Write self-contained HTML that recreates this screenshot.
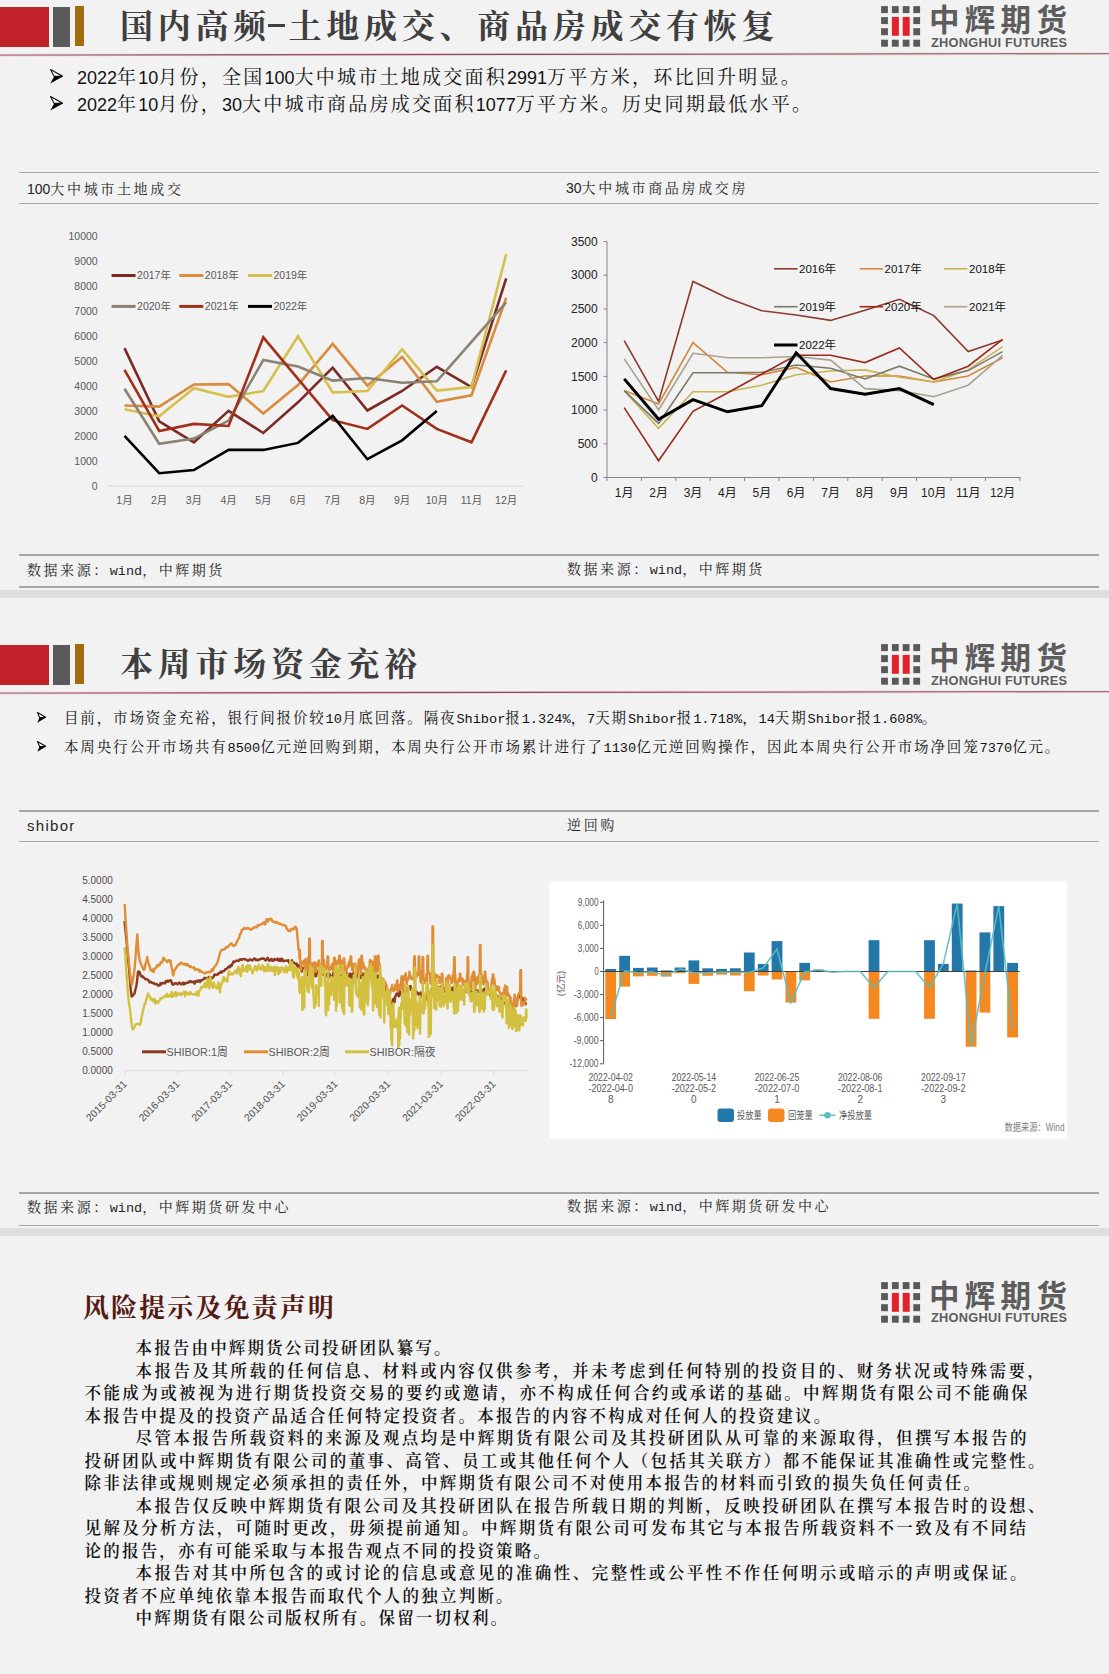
<!DOCTYPE html>
<html><head><meta charset="utf-8"><title>中辉期货</title>
<style>
*{margin:0;padding:0;box-sizing:border-box}
html,body{width:1109px;height:1674px;overflow:hidden;background:#f2f2f2}
body{position:relative;font-family:"Liberation Sans","Noto Serif CJK SC",serif;color:#000}
.abs{position:absolute}
.band{position:absolute;left:0;width:1109px;height:8px;background:#dedede}
.htitle{left:120px;height:50px;line-height:50px;font-family:"Liberation Serif","Noto Serif CJK SC",serif;font-weight:700;font-size:33px;letter-spacing:4.75px;margin-top:1.5px;color:#3f3f3f;white-space:nowrap}
.hy{display:inline-block;width:17px;height:3px;background:#3f3f3f;vertical-align:middle;margin:0 3.6px 0 -3px;position:relative;top:-4.4px}
.hline{left:0;width:1109px;height:1.5px;background:linear-gradient(90deg,#d98a92,#b87070)}
.logo-cn{left:929px;width:150px;height:32px;line-height:32px;margin-top:2px;font-family:"Noto Sans CJK SC",sans-serif;font-weight:700;font-size:30.5px;letter-spacing:5.3px;color:#5d5d5d;white-space:nowrap}
.logo-en{left:931px;height:12px;line-height:12px;font-family:"Liberation Sans",sans-serif;font-weight:700;font-size:12.8px;color:#5d5d5d;white-space:nowrap;letter-spacing:0.25px;margin-top:36.5px}
.b1{left:77px;height:26px;line-height:26px;font-size:19px;letter-spacing:2.24px;white-space:nowrap;color:#111}
.b1 .n{font-family:"Liberation Sans",sans-serif;font-size:18px;letter-spacing:0}
.arrow{display:inline-block;width:28px;font-family:"DejaVu Sans",sans-serif;font-size:16px;letter-spacing:0}
.b2{left:64px;height:22px;line-height:22px;font-size:14.5px;letter-spacing:1.85px;white-space:nowrap;color:#111}
.b2 .n{font-family:"Liberation Mono",monospace;font-size:13.6px;letter-spacing:0}
.b2 .arrow{width:29px;font-size:13px}
.gline{left:19px;width:1080px;height:1.5px;background:#a6a6a6}
.ctitle{height:20px;line-height:20px;font-size:14px;letter-spacing:2.65px;margin-left:-1px;margin-top:1px;color:#262626;white-space:nowrap}
.ctitle .n{font-family:"Liberation Sans",sans-serif;letter-spacing:0}
.m{font-family:"Liberation Mono",monospace;font-size:13.5px;letter-spacing:0}
.src{height:20px;line-height:20px;font-size:14px;letter-spacing:2.55px;margin-left:-1px;color:#262626;white-space:nowrap}
.disc{left:84.5px;font-size:16.5px;line-height:22.5px;letter-spacing:2.45px;font-weight:600;color:#111;white-space:nowrap}
.disc div{height:22.5px}
.disc .i{padding-left:51px}
.dtitle{left:83px;height:36px;line-height:36px;font-size:26px;font-weight:700;letter-spacing:2.1px;color:#561a14;white-space:nowrap}
svg text{font-family:"Liberation Sans","Noto Sans CJK SC",sans-serif}
</style></head><body>
<div class="abs" style="left:0;top:7px;width:49px;height:40px;background:#c1222a"></div><div class="abs" style="left:53px;top:7px;width:17px;height:40px;background:#595959"></div><div class="abs" style="left:75px;top:6px;width:9px;height:40px;background:#a26d0c"></div><div class="abs htitle" style="top:0px">国内高频<span class="hy"></span>土地成交、商品房成交有恢复</div><svg class="abs" style="left:0;top:50px" width="1109" height="10" viewBox="0 0 1109 10"><defs><linearGradient id="hg-40" x1="0" x2="1" y1="0" y2="0"><stop offset="0" stop-color="#a87482"/><stop offset="0.45" stop-color="#7d4d58"/><stop offset="1" stop-color="#9a7a78"/></linearGradient></defs><line x1="0" y1="5.1" x2="1109" y2="3.6" stroke="#f6dde1" stroke-width="3.2"/><line x1="0" y1="5.1" x2="1109" y2="3.6" stroke="url(#hg-40)" stroke-width="1.3"/></svg><svg class="abs" style="left:0;top:0.0px" width="1109" height="60" viewBox="0 0 1109 60"><rect x="881.1" y="6.1" width="6.8" height="7" fill="#595959"/><rect x="881.1" y="17.1" width="6.8" height="7" fill="#595959"/><rect x="881.1" y="28.2" width="6.8" height="7" fill="#595959"/><rect x="881.1" y="39.7" width="6.8" height="7" fill="#595959"/><rect x="891.9" y="6.1" width="6.8" height="7" fill="#595959"/><rect x="891.9" y="39.7" width="6.8" height="7" fill="#595959"/><rect x="902.7" y="6.1" width="6.8" height="7" fill="#595959"/><rect x="902.7" y="39.7" width="6.8" height="7" fill="#595959"/><rect x="913.3" y="6.1" width="6.8" height="7" fill="#595959"/><rect x="913.3" y="17.1" width="6.8" height="7" fill="#595959"/><rect x="913.3" y="28.2" width="6.8" height="7" fill="#595959"/><rect x="913.3" y="39.7" width="6.8" height="7" fill="#595959"/><rect x="891.9" y="16.9" width="7" height="18.9" fill="#e2222a"/><rect x="902.7" y="16.9" width="7" height="18.9" fill="#e2222a"/></svg><div class="abs logo-cn" style="top:0.0px">中辉期货</div><div class="abs logo-en" style="top:0.0px">ZHONGHUI FUTURES</div><div class="abs" style="left:49.8px;top:69.2px;width:14px;height:15px"><svg width="13.2" height="14.8" viewBox="0 0 13.2 14.8" style="position:absolute;left:0;top:0"><polygon points="0.5,0.5 12.899999999999999,7.4 4.2,7.4" fill="#fff" stroke="#111" stroke-width="1.1" stroke-linejoin="miter"/><polygon points="4.2,7.4 12.899999999999999,7.4 0.3,14.5" fill="#000"/></svg></div><div class="abs" style="left:49.8px;top:96.4px;width:14px;height:15px"><svg width="13.2" height="14.8" viewBox="0 0 13.2 14.8" style="position:absolute;left:0;top:0"><polygon points="0.5,0.5 12.899999999999999,7.4 4.2,7.4" fill="#fff" stroke="#111" stroke-width="1.1" stroke-linejoin="miter"/><polygon points="4.2,7.4 12.899999999999999,7.4 0.3,14.5" fill="#000"/></svg></div><div class="abs" style="left:37px;top:711.8px;width:10px;height:12px"><svg width="9.3" height="11" viewBox="0 0 9.3 11" style="position:absolute;left:0;top:0"><polygon points="0.5,0.5 9.0,5.5 2.6,5.5" fill="#fff" stroke="#111" stroke-width="1.1" stroke-linejoin="miter"/><polygon points="2.6,5.5 9.0,5.5 0.3,10.7" fill="#000"/></svg></div><div class="abs" style="left:37px;top:741.1px;width:10px;height:12px"><svg width="9.3" height="11" viewBox="0 0 9.3 11" style="position:absolute;left:0;top:0"><polygon points="0.5,0.5 9.0,5.5 2.6,5.5" fill="#fff" stroke="#111" stroke-width="1.1" stroke-linejoin="miter"/><polygon points="2.6,5.5 9.0,5.5 0.3,10.7" fill="#000"/></svg></div><div class="abs b1" style="top:64.5px"><span class="n">2022</span>年<span class="n">10</span>月份，全国<span class="n">100</span>大中城市土地成交面积<span class="n">2991</span>万平方米，环比回升明显。</div><div class="abs b1" style="top:91.8px"><span class="n">2022</span>年<span class="n">10</span>月份，<span class="n">30</span>大中城市商品房成交面积<span class="n">1077</span>万平方米。历史同期最低水平。</div><div class="abs gline" style="top:171.5px"></div><div class="abs gline" style="top:202.5px"></div><div class="abs ctitle" style="left:28px;top:178px"><span class="n">100</span>大中城市土地成交</div><div class="abs ctitle" style="left:567px;top:177px"><span class="n">30</span>大中城市商品房成交房</div><svg class="abs" style="left:20px;top:210px;overflow:visible" width="520" height="320" viewBox="20 210 520 320"><text x="97.7" y="489.8" text-anchor="end" font-size="10.5" fill="#595959">0</text><text x="97.7" y="464.8" text-anchor="end" font-size="10.5" fill="#595959">1000</text><text x="97.7" y="439.8" text-anchor="end" font-size="10.5" fill="#595959">2000</text><text x="97.7" y="414.8" text-anchor="end" font-size="10.5" fill="#595959">3000</text><text x="97.7" y="389.8" text-anchor="end" font-size="10.5" fill="#595959">4000</text><text x="97.7" y="364.8" text-anchor="end" font-size="10.5" fill="#595959">5000</text><text x="97.7" y="339.8" text-anchor="end" font-size="10.5" fill="#595959">6000</text><text x="97.7" y="314.8" text-anchor="end" font-size="10.5" fill="#595959">7000</text><text x="97.7" y="289.8" text-anchor="end" font-size="10.5" fill="#595959">8000</text><text x="97.7" y="264.8" text-anchor="end" font-size="10.5" fill="#595959">9000</text><text x="97.7" y="239.8" text-anchor="end" font-size="10.5" fill="#595959">10000</text><line x1="107.6" y1="486.0" x2="523" y2="486.0" stroke="#d9d9d9" stroke-width="1"/><text x="124.5" y="504" text-anchor="middle" font-size="10.5" fill="#595959">1月</text><text x="159.2" y="504" text-anchor="middle" font-size="10.5" fill="#595959">2月</text><text x="193.9" y="504" text-anchor="middle" font-size="10.5" fill="#595959">3月</text><text x="228.6" y="504" text-anchor="middle" font-size="10.5" fill="#595959">4月</text><text x="263.3" y="504" text-anchor="middle" font-size="10.5" fill="#595959">5月</text><text x="298.0" y="504" text-anchor="middle" font-size="10.5" fill="#595959">6月</text><text x="332.7" y="504" text-anchor="middle" font-size="10.5" fill="#595959">7月</text><text x="367.4" y="504" text-anchor="middle" font-size="10.5" fill="#595959">8月</text><text x="402.1" y="504" text-anchor="middle" font-size="10.5" fill="#595959">9月</text><text x="436.8" y="504" text-anchor="middle" font-size="10.5" fill="#595959">10月</text><text x="471.5" y="504" text-anchor="middle" font-size="10.5" fill="#595959">11月</text><text x="506.2" y="504" text-anchor="middle" font-size="10.5" fill="#595959">12月</text><polyline points="124.5,348.1 159.2,421.3 193.9,442.3 228.6,410.9 263.3,433.0 298.0,402.3 332.7,367.6 367.4,410.5 402.1,391.0 436.8,366.8 471.5,387.1 506.2,278.4" fill="none" stroke="#7b2a26" stroke-width="2.6" stroke-linejoin="miter"/><polyline points="124.5,405.5 159.2,406.6 193.9,384.5 228.6,384.1 263.3,413.5 298.0,385.0 332.7,343.8 367.4,385.6 402.1,356.8 436.8,401.8 471.5,395.3 506.2,297.9" fill="none" stroke="#d98b3e" stroke-width="2.6" stroke-linejoin="miter"/><polyline points="124.5,409.2 159.2,416.3 193.9,388.2 228.6,396.8 263.3,391.0 298.0,336.2 332.7,392.5 367.4,391.0 402.1,349.2 436.8,390.6 471.5,387.1 506.2,254.2" fill="none" stroke="#d4c04a" stroke-width="2.6" stroke-linejoin="miter"/><polyline points="124.5,388.8 159.2,443.8 193.9,438.6 228.6,420.6 263.3,360.0 298.0,366.5 332.7,380.6 367.4,378.0 402.1,382.8 436.8,381.3 471.5,341.8 506.2,302.3" fill="none" stroke="#8a8272" stroke-width="2.6" stroke-linejoin="miter"/><polyline points="124.5,369.8 159.2,431.0 193.9,423.9 228.6,426.0 263.3,337.3 298.0,378.8 332.7,420.2 367.4,428.9 402.1,405.5 436.8,428.9 471.5,442.3 506.2,370.4" fill="none" stroke="#a0301a" stroke-width="2.6" stroke-linejoin="miter"/><polyline points="124.5,435.8 159.2,473.2 193.9,470.0 228.6,449.9 263.3,449.9 298.0,442.9 332.7,415.9 367.4,459.2 402.1,440.3 436.8,410.9" fill="none" stroke="#000000" stroke-width="2.6" stroke-linejoin="miter"/><line x1="111.6" y1="275.5" x2="135.6" y2="275.5" stroke="#7b2a26" stroke-width="3"/><text x="137.1" y="279.3" font-size="10.5" fill="#595959">2017年</text><line x1="179.3" y1="275.5" x2="203.3" y2="275.5" stroke="#d98b3e" stroke-width="3"/><text x="204.8" y="279.3" font-size="10.5" fill="#595959">2018年</text><line x1="248" y1="275.5" x2="272" y2="275.5" stroke="#d4c04a" stroke-width="3"/><text x="273.5" y="279.3" font-size="10.5" fill="#595959">2019年</text><line x1="111.6" y1="306.4" x2="135.6" y2="306.4" stroke="#8a8272" stroke-width="3"/><text x="137.1" y="310.2" font-size="10.5" fill="#595959">2020年</text><line x1="179.3" y1="306.4" x2="203.3" y2="306.4" stroke="#a0301a" stroke-width="3"/><text x="204.8" y="310.2" font-size="10.5" fill="#595959">2021年</text><line x1="248" y1="306.4" x2="272" y2="306.4" stroke="#000000" stroke-width="3"/><text x="273.5" y="310.2" font-size="10.5" fill="#595959">2022年</text></svg><svg class="abs" style="left:560px;top:225px;overflow:visible" width="480" height="290" viewBox="560 225 480 290"><line x1="607" y1="241.5" x2="607" y2="477.5" stroke="#868686" stroke-width="1"/><line x1="603.5" y1="477.5" x2="607" y2="477.5" stroke="#868686" stroke-width="1"/><text x="597.7" y="481.7" text-anchor="end" font-size="12" fill="#222">0</text><line x1="603.5" y1="443.8" x2="607" y2="443.8" stroke="#868686" stroke-width="1"/><text x="597.7" y="448.0" text-anchor="end" font-size="12" fill="#222">500</text><line x1="603.5" y1="410.1" x2="607" y2="410.1" stroke="#868686" stroke-width="1"/><text x="597.7" y="414.3" text-anchor="end" font-size="12" fill="#222">1000</text><line x1="603.5" y1="376.4" x2="607" y2="376.4" stroke="#868686" stroke-width="1"/><text x="597.7" y="380.6" text-anchor="end" font-size="12" fill="#222">1500</text><line x1="603.5" y1="342.6" x2="607" y2="342.6" stroke="#868686" stroke-width="1"/><text x="597.7" y="346.8" text-anchor="end" font-size="12" fill="#222">2000</text><line x1="603.5" y1="308.9" x2="607" y2="308.9" stroke="#868686" stroke-width="1"/><text x="597.7" y="313.1" text-anchor="end" font-size="12" fill="#222">2500</text><line x1="603.5" y1="275.2" x2="607" y2="275.2" stroke="#868686" stroke-width="1"/><text x="597.7" y="279.4" text-anchor="end" font-size="12" fill="#222">3000</text><line x1="603.5" y1="241.5" x2="607" y2="241.5" stroke="#868686" stroke-width="1"/><text x="597.7" y="245.7" text-anchor="end" font-size="12" fill="#222">3500</text><line x1="607" y1="477.5" x2="1020.6" y2="477.5" stroke="#868686" stroke-width="1"/><line x1="607.0" y1="477.5" x2="607.0" y2="481.0" stroke="#868686" stroke-width="1"/><line x1="641.4" y1="477.5" x2="641.4" y2="481.0" stroke="#868686" stroke-width="1"/><line x1="675.8" y1="477.5" x2="675.8" y2="481.0" stroke="#868686" stroke-width="1"/><line x1="710.2" y1="477.5" x2="710.2" y2="481.0" stroke="#868686" stroke-width="1"/><line x1="744.6" y1="477.5" x2="744.6" y2="481.0" stroke="#868686" stroke-width="1"/><line x1="779.0" y1="477.5" x2="779.0" y2="481.0" stroke="#868686" stroke-width="1"/><line x1="813.4" y1="477.5" x2="813.4" y2="481.0" stroke="#868686" stroke-width="1"/><line x1="847.8" y1="477.5" x2="847.8" y2="481.0" stroke="#868686" stroke-width="1"/><line x1="882.2" y1="477.5" x2="882.2" y2="481.0" stroke="#868686" stroke-width="1"/><line x1="916.6" y1="477.5" x2="916.6" y2="481.0" stroke="#868686" stroke-width="1"/><line x1="951.0" y1="477.5" x2="951.0" y2="481.0" stroke="#868686" stroke-width="1"/><line x1="985.4" y1="477.5" x2="985.4" y2="481.0" stroke="#868686" stroke-width="1"/><line x1="1019.8" y1="477.5" x2="1019.8" y2="481.0" stroke="#868686" stroke-width="1"/><text x="624.2" y="496.8" text-anchor="middle" font-size="12" fill="#222">1月</text><text x="658.6" y="496.8" text-anchor="middle" font-size="12" fill="#222">2月</text><text x="693.0" y="496.8" text-anchor="middle" font-size="12" fill="#222">3月</text><text x="727.4" y="496.8" text-anchor="middle" font-size="12" fill="#222">4月</text><text x="761.8" y="496.8" text-anchor="middle" font-size="12" fill="#222">5月</text><text x="796.2" y="496.8" text-anchor="middle" font-size="12" fill="#222">6月</text><text x="830.6" y="496.8" text-anchor="middle" font-size="12" fill="#222">7月</text><text x="865.0" y="496.8" text-anchor="middle" font-size="12" fill="#222">8月</text><text x="899.4" y="496.8" text-anchor="middle" font-size="12" fill="#222">9月</text><text x="933.8" y="496.8" text-anchor="middle" font-size="12" fill="#222">10月</text><text x="968.2" y="496.8" text-anchor="middle" font-size="12" fill="#222">11月</text><text x="1002.6" y="496.8" text-anchor="middle" font-size="12" fill="#222">12月</text><polyline points="624.2,340.7 658.6,401.5 693.0,281.5 727.4,298.0 761.8,310.7 796.2,315.0 830.6,320.4 865.0,310.2 899.4,299.3 933.8,315.6 968.2,351.6 1002.6,339.9" fill="none" stroke="#8b3a2e" stroke-width="1.6"/><polyline points="624.2,390.6 658.6,404.0 693.0,342.6 727.4,372.3 761.8,374.7 796.2,367.4 830.6,382.0 865.0,376.0 899.4,376.0 933.8,382.0 968.2,376.0 1002.6,357.7" fill="none" stroke="#d4883a" stroke-width="1.6"/><polyline points="624.2,390.6 658.6,428.3 693.0,391.8 727.4,391.8 761.8,385.2 796.2,374.7 830.6,371.0 865.0,369.9 899.4,377.2 933.8,382.0 968.2,369.9 1002.6,346.7" fill="none" stroke="#c8b450" stroke-width="1.6"/><polyline points="624.2,390.6 658.6,423.4 693.0,372.8 727.4,372.8 761.8,372.3 796.2,365.0 830.6,368.2 865.0,378.9 899.4,366.2 933.8,378.9 968.2,370.6 1002.6,351.6" fill="none" stroke="#7a7a6a" stroke-width="1.6"/><polyline points="624.2,407.6 658.6,460.7 693.0,411.3 727.4,393.0 761.8,374.0 796.2,355.3 830.6,355.3 865.0,362.6 899.4,348.0 933.8,379.6 968.2,366.2 1002.6,339.4" fill="none" stroke="#9a2a1a" stroke-width="1.6"/><polyline points="624.2,358.9 658.6,410.0 693.0,353.3 727.4,357.7 761.8,357.7 796.2,356.5 830.6,360.1 865.0,388.6 899.4,390.6 933.8,396.7 968.2,385.2 1002.6,355.3" fill="none" stroke="#a8a290" stroke-width="1.6"/><polyline points="624.2,378.9 658.6,419.3 693.0,399.6 727.4,411.8 761.8,405.7 796.2,352.8 830.6,388.6 865.0,394.2 899.4,388.6 933.8,404.7" fill="none" stroke="#000000" stroke-width="3.0"/><line x1="774" y1="268.8" x2="797.5" y2="268.8" stroke="#8b3a2e" stroke-width="1.6"/><text x="799" y="272.90000000000003" font-size="11.5" fill="#111">2016年</text><line x1="859.6" y1="268.8" x2="883.1" y2="268.8" stroke="#d4883a" stroke-width="1.6"/><text x="884.6" y="272.90000000000003" font-size="11.5" fill="#111">2017年</text><line x1="944" y1="268.8" x2="967.5" y2="268.8" stroke="#c8b450" stroke-width="1.6"/><text x="969" y="272.90000000000003" font-size="11.5" fill="#111">2018年</text><line x1="774" y1="306.7" x2="797.5" y2="306.7" stroke="#7a7a6a" stroke-width="1.6"/><text x="799" y="310.8" font-size="11.5" fill="#111">2019年</text><line x1="859.6" y1="306.7" x2="883.1" y2="306.7" stroke="#9a2a1a" stroke-width="1.6"/><text x="884.6" y="310.8" font-size="11.5" fill="#111">2020年</text><line x1="944" y1="306.7" x2="967.5" y2="306.7" stroke="#a8a290" stroke-width="1.6"/><text x="969" y="310.8" font-size="11.5" fill="#111">2021年</text><line x1="774" y1="345" x2="797.5" y2="345" stroke="#000000" stroke-width="3.0"/><text x="799" y="349.1" font-size="11.5" fill="#111">2022年</text></svg><div class="abs gline" style="top:554px"></div><div class="abs gline" style="top:586px"></div><div class="abs src" style="left:28px;top:559.5px">数据来源：<span class="m">wind</span>，中辉期货</div><div class="abs src" style="left:568px;top:558.5px">数据来源：<span class="m">wind</span>，中辉期货</div><div class="band" style="top:590px"></div><div class="abs" style="left:0;top:645px;width:49px;height:40px;background:#c1222a"></div><div class="abs" style="left:53px;top:645px;width:17px;height:40px;background:#595959"></div><div class="abs" style="left:75px;top:644px;width:9px;height:40px;background:#a26d0c"></div><div class="abs htitle" style="top:638px">本周市场资金充裕</div><svg class="abs" style="left:0;top:688px" width="1109" height="10" viewBox="0 0 1109 10"><defs><linearGradient id="hg598" x1="0" x2="1" y1="0" y2="0"><stop offset="0" stop-color="#a87482"/><stop offset="0.45" stop-color="#7d4d58"/><stop offset="1" stop-color="#9a7a78"/></linearGradient></defs><line x1="0" y1="5.1" x2="1109" y2="3.6" stroke="#f6dde1" stroke-width="3.2"/><line x1="0" y1="5.1" x2="1109" y2="3.6" stroke="url(#hg598)" stroke-width="1.3"/></svg><svg class="abs" style="left:0;top:638.0px" width="1109" height="60" viewBox="0 0 1109 60"><rect x="881.1" y="6.1" width="6.8" height="7" fill="#595959"/><rect x="881.1" y="17.1" width="6.8" height="7" fill="#595959"/><rect x="881.1" y="28.2" width="6.8" height="7" fill="#595959"/><rect x="881.1" y="39.7" width="6.8" height="7" fill="#595959"/><rect x="891.9" y="6.1" width="6.8" height="7" fill="#595959"/><rect x="891.9" y="39.7" width="6.8" height="7" fill="#595959"/><rect x="902.7" y="6.1" width="6.8" height="7" fill="#595959"/><rect x="902.7" y="39.7" width="6.8" height="7" fill="#595959"/><rect x="913.3" y="6.1" width="6.8" height="7" fill="#595959"/><rect x="913.3" y="17.1" width="6.8" height="7" fill="#595959"/><rect x="913.3" y="28.2" width="6.8" height="7" fill="#595959"/><rect x="913.3" y="39.7" width="6.8" height="7" fill="#595959"/><rect x="891.9" y="16.9" width="7" height="18.9" fill="#e2222a"/><rect x="902.7" y="16.9" width="7" height="18.9" fill="#e2222a"/></svg><div class="abs logo-cn" style="top:638.0px">中辉期货</div><div class="abs logo-en" style="top:638.0px">ZHONGHUI FUTURES</div><div class="abs b2" style="top:706.5px">目前，市场资金充裕，银行间报价较<span class="n">10</span>月底回落。隔夜<span class="n">Shibor</span>报<span class="n">1.324%</span>，<span class="n">7</span>天期<span class="n">Shibor</span>报<span class="n">1.718%</span>，<span class="n">14</span>天期<span class="n">Shibor</span>报<span class="n">1.608%</span>。</div><div class="abs b2" style="top:735.5px">本周央行公开市场共有<span class="n">8500</span>亿元逆回购到期，本周央行公开市场累计进行了<span class="n">1130</span>亿元逆回购操作，因此本周央行公开市场净回笼<span class="n">7370</span>亿元。</div><div class="abs gline" style="top:810px"></div><div class="abs gline" style="top:840.5px"></div><div class="abs ctitle" style="left:28px;top:814.5px"><span style="font-family:Liberation Sans,sans-serif;font-size:15px;letter-spacing:1.3px;position:relative;top:0.5px">shibor</span></div><div class="abs ctitle" style="left:568px;top:813.5px">逆回购</div><svg class="abs" style="left:60px;top:860px;overflow:visible" width="480" height="270" viewBox="60 860 480 270"><text x="112.8" y="1074.3" text-anchor="end" font-size="10" fill="#4d4d4d">0.0000</text><text x="112.8" y="1055.2" text-anchor="end" font-size="10" fill="#4d4d4d">0.5000</text><text x="112.8" y="1036.2" text-anchor="end" font-size="10" fill="#4d4d4d">1.0000</text><text x="112.8" y="1017.1" text-anchor="end" font-size="10" fill="#4d4d4d">1.5000</text><text x="112.8" y="998.1" text-anchor="end" font-size="10" fill="#4d4d4d">2.0000</text><text x="112.8" y="979.0" text-anchor="end" font-size="10" fill="#4d4d4d">2.5000</text><text x="112.8" y="960.0" text-anchor="end" font-size="10" fill="#4d4d4d">3.0000</text><text x="112.8" y="940.9" text-anchor="end" font-size="10" fill="#4d4d4d">3.5000</text><text x="112.8" y="921.9" text-anchor="end" font-size="10" fill="#4d4d4d">4.0000</text><text x="112.8" y="902.8" text-anchor="end" font-size="10" fill="#4d4d4d">4.5000</text><text x="112.8" y="883.8" text-anchor="end" font-size="10" fill="#4d4d4d">5.0000</text><line x1="124" y1="1070.8" x2="527" y2="1070.8" stroke="#d9d9d9" stroke-width="1"/><line x1="125.0" y1="1070.8" x2="125.0" y2="1074.8" stroke="#d9d9d9" stroke-width="1"/><text x="0" y="0" text-anchor="end" font-size="10.3" fill="#4d4d4d" transform="translate(127.5,1084.8) rotate(-45)">2015-03-31</text><line x1="177.7" y1="1070.8" x2="177.7" y2="1074.8" stroke="#d9d9d9" stroke-width="1"/><text x="0" y="0" text-anchor="end" font-size="10.3" fill="#4d4d4d" transform="translate(180.2,1084.8) rotate(-45)">2016-03-31</text><line x1="230.4" y1="1070.8" x2="230.4" y2="1074.8" stroke="#d9d9d9" stroke-width="1"/><text x="0" y="0" text-anchor="end" font-size="10.3" fill="#4d4d4d" transform="translate(232.9,1084.8) rotate(-45)">2017-03-31</text><line x1="283.1" y1="1070.8" x2="283.1" y2="1074.8" stroke="#d9d9d9" stroke-width="1"/><text x="0" y="0" text-anchor="end" font-size="10.3" fill="#4d4d4d" transform="translate(285.6,1084.8) rotate(-45)">2018-03-31</text><line x1="335.8" y1="1070.8" x2="335.8" y2="1074.8" stroke="#d9d9d9" stroke-width="1"/><text x="0" y="0" text-anchor="end" font-size="10.3" fill="#4d4d4d" transform="translate(338.3,1084.8) rotate(-45)">2019-03-31</text><line x1="388.5" y1="1070.8" x2="388.5" y2="1074.8" stroke="#d9d9d9" stroke-width="1"/><text x="0" y="0" text-anchor="end" font-size="10.3" fill="#4d4d4d" transform="translate(391.0,1084.8) rotate(-45)">2020-03-31</text><line x1="441.2" y1="1070.8" x2="441.2" y2="1074.8" stroke="#d9d9d9" stroke-width="1"/><text x="0" y="0" text-anchor="end" font-size="10.3" fill="#4d4d4d" transform="translate(443.7,1084.8) rotate(-45)">2021-03-31</text><line x1="493.9" y1="1070.8" x2="493.9" y2="1074.8" stroke="#d9d9d9" stroke-width="1"/><text x="0" y="0" text-anchor="end" font-size="10.3" fill="#4d4d4d" transform="translate(496.4,1084.8) rotate(-45)">2022-03-31</text><polyline points="124.5,921.2 125.4,929.3 126.3,938.6 127.2,948.0 128.1,958.6 129.0,968.1 129.9,979.2 130.8,989.9 131.7,996.6 132.6,995.8 133.5,994.6 134.4,993.8 135.3,989.9 136.2,986.6 137.1,980.8 138.0,971.9 138.9,971.4 139.8,972.5 140.7,975.7 141.6,976.6 142.5,976.1 143.4,977.5 144.3,977.6 145.2,979.1 146.1,979.3 147.0,979.2 147.9,979.9 148.8,980.9 149.7,982.4 150.6,981.7 151.5,982.5 152.4,982.6 153.3,983.5 154.2,983.2 155.1,984.2 156.0,984.2 156.9,984.0 157.8,985.5 158.7,985.2 159.6,985.5 160.5,983.1 161.4,984.2 162.3,983.2 163.2,982.8 164.1,983.0 165.0,983.5 165.9,981.1 166.8,981.7 167.7,980.4 168.6,981.5 169.5,980.7 170.4,980.2 171.3,981.0 172.2,983.9 173.1,984.8 174.0,983.9 174.9,983.2 175.8,983.6 176.7,983.4 177.6,984.3 178.5,983.1 179.4,982.6 180.3,983.7 181.2,984.4 182.1,983.8 183.0,982.6 183.9,984.4 184.8,983.0 185.7,983.6 186.6,982.8 187.5,982.8 188.4,982.5 189.3,981.3 190.2,982.0 191.1,981.2 192.0,982.2 192.9,982.3 193.8,981.4 194.7,983.7 195.6,981.3 196.5,980.9 197.4,981.8 198.3,980.3 199.2,980.8 200.1,982.0 201.0,980.1 201.9,980.3 202.8,979.7 203.7,979.1 204.6,977.8 205.5,978.3 206.4,978.2 207.3,977.8 208.2,979.3 209.1,976.9 210.0,978.5 210.9,977.3 211.8,978.3 212.7,977.7 213.6,976.7 214.5,974.4 215.4,974.7 216.3,975.1 217.2,974.3 218.1,974.4 219.0,973.0 219.9,972.8 220.8,971.4 221.7,972.5 222.6,971.3 223.5,971.3 224.4,970.7 225.3,969.2 226.2,969.2 227.1,968.4 228.0,967.2 228.9,966.4 229.8,967.4 230.7,965.1 231.6,965.9 232.5,963.8 233.4,961.4 234.3,962.1 235.2,961.4 236.1,960.8 237.0,960.7 237.9,960.5 238.8,960.9 239.7,959.4 240.6,959.3 241.5,960.0 242.4,959.4 243.3,959.1 244.2,958.9 245.1,959.5 246.0,959.3 246.9,960.1 247.8,960.8 248.7,960.5 249.6,959.4 250.5,959.5 251.4,960.1 252.3,960.5 253.2,959.7 254.1,958.5 255.0,958.6 255.9,960.1 256.8,959.4 257.7,960.4 258.6,960.0 259.5,959.1 260.4,959.3 261.3,958.6 262.2,958.4 263.1,958.8 264.0,958.5 264.9,960.0 265.8,960.5 266.7,959.3 267.6,957.7 268.5,959.6 269.4,960.8 270.3,959.8 271.2,958.9 272.1,960.8 273.0,959.4 273.9,960.5 274.8,959.1 275.7,959.5 276.6,959.9 277.5,958.6 278.4,960.5 279.3,960.8 280.2,958.8 281.1,961.0 282.0,958.7 282.9,960.5 283.8,961.3 284.7,960.6 285.6,960.6 286.5,960.6 287.4,961.0 288.3,960.1 289.2,962.8 290.1,961.7 291.0,961.7 291.9,960.3 292.8,963.5 293.7,962.4 294.6,963.3 295.5,963.4 296.4,964.5 296.7,963.6 297.0,965.9 297.3,966.0 297.6,966.1 297.9,966.5 298.2,966.8 298.5,965.1 298.8,965.9 299.1,965.8 299.4,966.6 299.7,966.7 300.0,966.1 300.3,968.0 300.6,967.5 300.9,967.8 301.2,967.7 301.5,967.0 301.8,971.6 302.1,967.6 302.4,968.1 302.7,968.6 303.0,968.2 303.3,968.7 303.6,968.4 303.9,968.7 304.2,969.2 304.5,969.3 304.8,968.8 305.1,969.3 305.4,968.9 305.7,969.0 306.0,973.3 306.3,972.7 306.6,972.3 306.9,972.1 307.2,974.8 307.5,975.2 307.8,970.3 308.1,973.4 308.4,972.6 308.7,972.4 309.0,972.4 309.3,972.2 309.6,972.9 309.9,973.1 310.2,974.8 310.5,974.9 310.8,975.6 311.1,975.4 311.4,975.7 311.7,975.5 312.0,974.9 312.3,975.8 312.6,976.4 312.9,976.5 313.2,975.3 313.5,976.3 313.8,975.1 314.1,976.0 314.4,972.4 314.7,975.8 315.0,975.8 315.3,975.6 315.6,971.7 315.9,976.0 316.2,976.4 316.5,971.9 316.8,971.2 317.1,971.7 317.4,971.5 317.7,973.3 318.0,971.7 318.3,971.2 318.6,972.1 318.9,972.4 319.2,972.6 319.5,974.7 319.8,974.5 320.1,976.3 320.4,972.5 320.7,973.1 321.0,974.2 321.3,973.9 321.6,974.5 321.9,974.3 322.2,974.6 322.5,974.1 322.8,973.8 323.1,974.0 323.4,974.5 323.7,974.1 324.0,973.4 324.3,973.8 324.6,974.6 324.9,974.7 325.2,975.3 325.5,974.8 325.8,976.2 326.1,976.4 326.4,975.8 326.7,975.6 327.0,975.8 327.3,975.9 327.6,973.1 327.9,973.2 328.2,972.2 328.5,973.0 328.8,973.1 329.1,973.6 329.4,974.3 329.7,973.7 330.0,977.0 330.3,976.8 330.6,976.9 330.9,976.6 331.2,977.7 331.5,977.7 331.8,977.4 332.1,977.3 332.4,976.3 332.7,976.6 333.0,973.5 333.3,973.0 333.6,973.1 333.9,973.0 334.2,973.6 334.5,973.5 334.8,975.0 335.1,974.9 335.4,974.9 335.7,976.1 336.0,976.5 336.3,975.6 336.6,975.2 336.9,975.1 337.2,975.8 337.5,976.0 337.8,974.9 338.1,974.7 338.4,976.0 338.7,976.2 339.0,976.8 339.3,976.4 339.6,976.1 339.9,975.6 340.2,975.1 340.5,975.1 340.8,974.8 341.1,975.2 341.4,975.2 341.7,975.8 342.0,976.2 342.3,976.7 342.6,977.4 342.9,978.2 343.2,978.1 343.5,979.0 343.8,979.0 344.1,978.3 344.4,977.8 344.7,977.1 345.0,976.6 345.3,976.5 345.6,976.9 345.9,973.2 346.2,972.7 346.5,972.9 346.8,973.6 347.1,973.9 347.4,974.5 347.7,975.2 348.0,974.5 348.3,974.6 348.6,977.2 348.9,976.8 349.2,976.1 349.5,975.9 349.8,974.8 350.1,973.8 350.4,973.6 350.7,974.3 351.0,974.0 351.3,977.6 351.6,978.6 351.9,978.2 352.2,978.3 352.5,974.6 352.8,974.1 353.1,974.0 353.4,973.3 353.7,973.0 354.0,972.7 354.3,978.3 354.6,978.0 354.9,974.1 355.2,974.3 355.5,974.8 355.8,978.1 356.1,977.4 356.4,977.6 356.7,976.1 357.0,975.9 357.3,976.8 357.6,975.6 357.9,973.9 358.2,974.7 358.5,975.6 358.8,976.2 359.1,976.1 359.4,976.4 359.7,975.0 360.0,978.0 360.3,977.5 360.6,974.1 360.9,978.1 361.2,975.2 361.5,976.1 361.8,975.7 362.1,976.3 362.4,975.6 362.7,973.6 363.0,973.7 363.3,974.2 363.6,974.6 363.9,976.5 364.2,976.5 364.5,976.6 364.8,977.4 365.1,977.4 365.4,974.1 365.7,972.9 366.0,974.4 366.3,975.3 366.6,976.4 366.9,975.0 367.2,974.0 367.5,978.3 367.8,978.3 368.1,978.2 368.4,978.3 368.7,978.1 369.0,977.8 369.3,978.2 369.6,977.1 369.9,976.8 370.2,978.0 370.5,976.4 370.8,976.6 371.1,977.5 371.4,976.8 371.7,976.9 372.0,977.4 372.3,975.8 372.6,975.4 372.9,975.5 373.2,975.1 373.5,975.7 373.8,977.2 374.1,977.2 374.4,976.4 374.7,975.3 375.0,975.8 375.3,975.1 375.6,975.8 375.9,976.2 376.2,976.5 376.5,977.2 376.8,977.5 377.1,977.9 377.4,978.1 377.7,976.0 378.0,976.0 378.3,975.3 378.6,976.6 378.9,978.4 379.2,978.8 379.5,976.8 379.8,980.4 380.1,980.7 380.4,981.0 380.7,981.6 381.0,981.3 381.3,982.2 381.6,983.5 381.9,984.1 382.2,983.7 382.5,978.7 382.8,980.4 383.1,981.1 383.4,981.3 383.7,981.7 384.0,982.0 384.3,983.0 384.6,983.7 384.9,985.6 385.2,986.7 385.5,989.0 385.8,990.7 386.1,991.9 386.4,992.6 386.7,993.8 387.0,995.1 387.3,995.7 387.6,996.5 387.9,997.6 388.2,998.8 388.5,1000.4 388.8,1000.6 389.1,1002.1 389.4,1002.4 389.7,1003.9 390.0,1004.9 390.3,1006.4 390.6,1007.7 390.9,1006.3 391.2,1006.7 391.5,1005.8 391.8,1005.7 392.1,1002.7 392.4,1000.6 392.7,1000.1 393.0,1000.1 393.3,998.9 393.6,999.0 393.9,1002.5 394.2,1002.1 394.5,1002.2 394.8,1001.3 395.1,996.5 395.4,996.4 395.7,996.0 396.0,995.1 396.3,994.3 396.6,993.5 396.9,994.7 397.2,994.0 397.5,993.6 397.8,993.3 398.1,993.1 398.4,992.4 398.7,996.3 399.0,995.9 399.3,995.9 399.6,994.6 399.9,991.2 400.2,992.0 400.5,993.9 400.8,992.3 401.1,992.1 401.4,991.5 401.7,991.4 402.0,991.2 402.3,990.7 402.6,991.4 402.9,991.2 403.2,990.4 403.5,990.4 403.8,992.1 404.1,992.0 404.4,991.5 404.7,991.6 405.0,989.1 405.3,988.4 405.6,988.7 405.9,988.2 406.2,988.9 406.5,988.8 406.8,991.3 407.1,990.9 407.4,991.3 407.7,988.1 408.0,988.1 408.3,987.9 408.6,987.7 408.9,987.2 409.2,986.8 409.5,987.0 409.8,986.3 410.1,989.0 410.4,986.3 410.7,986.3 411.0,989.0 411.3,989.9 411.6,989.5 411.9,989.6 412.2,990.1 412.5,989.9 412.8,990.3 413.1,990.1 413.4,990.9 413.7,991.4 414.0,992.2 414.3,992.8 414.6,993.1 414.9,993.5 415.2,993.8 415.5,991.3 415.8,991.6 416.1,991.4 416.4,991.8 416.7,991.9 417.0,992.7 417.3,993.1 417.6,993.3 417.9,993.6 418.2,993.3 418.5,994.7 418.8,994.1 419.1,994.8 419.4,994.5 419.7,993.9 420.0,995.5 420.3,995.6 420.6,992.4 420.9,993.2 421.2,994.3 421.5,994.9 421.8,995.5 422.1,996.0 422.4,996.3 422.7,996.6 423.0,999.2 423.3,998.6 423.6,999.1 423.9,999.0 424.2,999.7 424.5,1000.6 424.8,999.2 425.1,999.6 425.4,999.6 425.7,1000.2 426.0,998.8 426.3,997.4 426.6,997.5 426.9,996.6 427.2,996.0 427.5,995.6 427.8,995.1 428.1,994.3 428.4,993.1 428.7,992.9 429.0,993.1 429.3,993.7 429.6,993.5 429.9,992.3 430.2,991.9 430.5,991.9 430.8,991.3 431.1,990.5 431.4,989.5 431.7,988.2 432.0,989.1 432.3,988.8 432.6,989.2 432.9,989.1 433.2,985.4 433.5,985.8 433.8,986.5 434.1,986.1 434.4,986.4 434.7,984.7 435.0,985.0 435.3,985.1 435.6,985.5 435.9,987.5 436.2,987.2 436.5,988.3 436.8,988.6 437.1,989.3 437.4,989.9 437.7,990.3 438.0,990.0 438.3,989.7 438.6,989.0 438.9,987.5 439.2,987.6 439.5,987.8 439.8,987.4 440.1,987.7 440.4,987.6 440.7,987.3 441.0,986.6 441.3,986.5 441.6,987.0 441.9,987.6 442.2,989.3 442.5,990.4 442.8,990.2 443.1,990.6 443.4,990.7 443.7,991.2 444.0,991.6 444.3,991.1 444.6,990.4 444.9,990.2 445.2,990.4 445.5,990.6 445.8,989.6 446.1,986.3 446.4,986.1 446.7,986.4 447.0,986.7 447.3,986.7 447.6,990.2 447.9,990.8 448.2,991.2 448.5,987.3 448.8,986.9 449.1,988.0 449.4,988.5 449.7,989.2 450.0,988.1 450.3,988.9 450.6,990.7 450.9,991.0 451.2,990.3 451.5,991.0 451.8,988.5 452.1,988.4 452.4,987.7 452.7,988.7 453.0,988.7 453.3,988.5 453.6,989.8 453.9,987.8 454.2,986.9 454.5,992.1 454.8,992.6 455.1,992.0 455.4,989.6 455.7,987.6 456.0,987.8 456.3,986.9 456.6,986.6 456.9,986.5 457.2,986.3 457.5,989.8 457.8,989.6 458.1,990.0 458.4,989.7 458.7,990.3 459.0,991.3 459.3,991.2 459.6,991.7 459.9,991.6 460.2,991.3 460.5,990.8 460.8,988.5 461.1,990.0 461.4,989.1 461.7,988.7 462.0,991.1 462.3,990.7 462.6,991.1 462.9,991.6 463.2,991.3 463.5,991.8 463.8,991.5 464.1,991.5 464.4,992.3 464.7,990.3 465.0,989.5 465.3,989.5 465.6,989.7 465.9,989.9 466.2,988.7 466.5,988.9 466.8,991.8 467.1,989.3 467.4,991.8 467.7,992.0 468.0,992.3 468.3,991.4 468.6,991.1 468.9,990.9 469.2,990.6 469.5,990.3 469.8,989.9 470.1,989.9 470.4,989.3 470.7,989.2 471.0,990.3 471.3,992.9 471.6,992.4 471.9,992.6 472.2,991.9 472.5,992.0 472.8,992.3 473.1,993.7 473.4,993.8 473.7,993.1 474.0,992.8 474.3,991.9 474.6,991.5 474.9,991.4 475.2,991.2 475.5,991.7 475.8,991.7 476.1,990.5 476.4,990.5 476.7,990.6 477.0,990.4 477.3,990.8 477.6,990.5 477.9,991.1 478.2,991.8 478.5,991.7 478.8,992.2 479.1,992.1 479.4,992.7 479.7,992.8 480.0,992.9 480.3,992.5 480.6,989.6 480.9,990.7 481.2,991.0 481.5,991.6 481.8,991.9 482.1,992.3 482.4,990.6 482.7,990.3 483.0,990.2 483.3,990.1 483.6,989.4 483.9,989.7 484.2,989.6 484.5,989.5 484.8,988.4 485.1,992.2 485.4,992.5 485.7,992.2 486.0,993.2 486.3,989.9 486.6,989.8 486.9,990.0 487.2,990.3 487.5,989.8 487.8,989.8 488.1,989.8 488.4,990.5 488.7,992.3 489.0,992.3 489.3,992.6 489.6,992.0 489.9,993.9 490.2,995.1 490.5,996.2 490.8,996.4 491.1,996.2 491.4,996.4 491.7,993.7 492.0,993.2 492.3,992.6 492.6,996.8 492.9,996.8 493.2,995.6 493.5,996.5 493.8,994.8 494.1,996.9 494.4,997.2 494.7,995.9 495.0,996.2 495.3,994.6 495.6,994.0 495.9,994.4 496.2,998.6 496.5,997.7 496.8,997.8 497.1,997.8 497.4,996.0 497.7,995.9 498.0,999.1 498.3,1000.0 498.6,999.5 498.9,998.6 499.2,999.1 499.5,999.9 499.8,1000.3 500.1,1000.4 500.4,1000.0 500.7,997.9 501.0,998.4 501.3,997.6 501.6,998.3 501.9,998.9 502.2,999.0 502.5,998.9 502.8,998.7 503.1,998.8 503.4,1000.3 503.7,1000.5 504.0,1003.1 504.3,1003.4 504.6,1003.1 504.9,1002.5 505.2,1003.1 505.5,1001.9 505.8,1002.1 506.1,1002.5 506.4,1003.6 506.7,1003.8 507.0,1004.4 507.3,1005.0 507.6,1005.7 507.9,1000.7 508.2,1001.5 508.5,1002.0 508.8,1002.6 509.1,1005.8 509.4,1005.7 509.7,1005.7 510.0,1005.6 510.3,1005.3 510.6,1005.7 510.9,1006.7 511.2,1006.5 511.5,1007.1 511.8,1007.2 512.1,1003.8 512.4,1006.9 512.7,1006.3 513.0,1006.0 513.3,1005.7 513.6,1005.7 513.9,1003.8 514.2,1004.2 514.5,1003.9 514.8,1004.4 515.1,1005.4 515.4,1004.3 515.7,1005.6 516.0,1006.0 516.3,1006.0 516.6,1005.8 516.9,1000.7 517.2,999.9 517.5,999.4 517.8,998.7 518.1,998.5 518.4,997.7 518.7,997.3 519.0,995.8 519.3,996.8 519.6,996.9 519.9,996.7 520.2,996.9 520.5,996.8 520.8,996.7 521.1,997.3 521.4,997.2 521.7,997.5 522.0,1000.7 522.3,1001.6 522.6,1002.1 522.9,1002.8 523.2,998.8 523.5,999.2 523.8,1002.1 524.1,1002.1 524.4,1002.8 524.7,1003.1 525.0,1003.2 525.3,1003.1 525.6,1003.0 525.9,1004.3 526.2,1004.3 526.5,1004.2" fill="none" stroke="#8b3a1e" stroke-width="2.4" stroke-linejoin="round"/><polyline points="124.7,904.0 125.6,920.2 126.5,933.2 127.4,947.2 128.3,955.7 129.2,965.8 130.1,973.5 131.0,982.1 131.9,984.9 132.8,980.0 133.7,975.0 134.6,968.6 135.5,957.7 136.4,945.2 137.3,934.4 138.2,948.4 139.1,956.9 140.0,961.4 140.9,963.9 141.8,965.4 142.7,967.6 143.6,970.0 144.5,969.3 145.4,964.4 146.3,961.6 147.2,956.9 148.1,962.1 149.0,964.5 149.9,967.4 150.8,970.5 151.7,970.7 152.6,969.5 153.5,972.1 154.4,968.9 155.3,968.4 156.2,967.8 157.1,965.3 158.0,966.2 158.9,964.5 159.8,965.0 160.7,962.2 161.6,962.6 162.5,961.6 163.4,957.6 164.3,959.1 165.2,960.1 166.1,960.4 167.0,962.1 167.9,961.6 168.8,959.9 169.7,961.3 170.6,960.7 171.5,967.1 172.4,970.5 173.3,975.5 174.2,970.9 175.1,969.2 176.0,968.0 176.9,966.7 177.8,965.2 178.7,964.2 179.6,964.5 180.5,963.1 181.4,962.5 182.3,963.6 183.2,964.2 184.1,963.5 185.0,964.7 185.9,964.1 186.8,965.3 187.7,964.1 188.6,965.8 189.5,966.7 190.4,966.1 191.3,967.0 192.2,967.5 193.1,967.3 194.0,967.1 194.9,969.8 195.8,968.7 196.7,969.3 197.6,969.7 198.5,969.5 199.4,971.6 200.3,970.6 201.2,971.7 202.1,971.8 203.0,972.5 203.9,973.0 204.8,973.5 205.7,973.2 206.6,971.9 207.5,972.3 208.4,972.0 209.3,971.8 210.2,972.2 211.1,971.0 212.0,969.3 212.9,970.7 213.8,967.8 214.7,966.5 215.6,965.8 216.5,964.2 217.4,962.5 218.3,959.3 219.2,956.3 220.1,952.4 221.0,950.8 221.9,949.9 222.8,949.9 223.7,949.3 224.6,949.4 225.5,948.0 226.4,946.9 227.3,947.6 228.2,946.4 229.1,945.3 230.0,944.8 230.9,943.3 231.8,943.7 232.7,945.4 233.6,946.0 234.5,945.2 235.4,945.3 236.3,942.8 237.2,941.4 238.1,939.3 239.0,938.5 239.9,934.1 240.8,933.8 241.7,930.2 242.6,929.8 243.5,928.5 244.4,928.0 245.3,928.6 246.2,929.0 247.1,927.9 248.0,928.2 248.9,928.5 249.8,929.2 250.7,929.7 251.6,929.1 252.5,928.7 253.4,928.0 254.3,927.0 255.2,927.3 256.1,927.4 257.0,926.9 257.9,925.0 258.8,925.5 259.7,925.1 260.6,924.6 261.5,924.0 262.4,924.0 263.3,922.6 264.2,922.3 265.1,924.5 266.0,921.9 266.9,918.9 267.8,921.6 268.7,920.0 269.6,918.7 270.5,919.4 271.4,918.8 272.3,921.3 273.2,921.8 274.1,921.4 275.0,922.3 275.9,923.0 276.8,922.1 277.7,922.7 278.6,923.3 279.5,923.9 280.4,923.8 281.3,924.4 282.2,925.2 283.1,924.6 284.0,925.1 284.9,925.7 285.8,925.8 286.7,928.6 287.6,929.3 288.5,931.0 289.4,930.9 290.3,931.0 291.2,929.0 292.1,928.6 293.0,929.3 293.9,929.0 294.8,927.0 295.7,926.8 296.6,928.7 296.9,931.1 297.2,933.2 297.5,938.3 297.8,941.1 298.1,942.3 298.4,948.6 298.7,950.2 299.0,949.4 299.3,953.4 299.6,959.1 299.9,949.9 300.2,962.6 300.5,966.1 300.8,967.9 301.1,970.0 301.4,964.1 301.7,963.7 302.0,962.0 302.3,961.8 302.6,962.9 302.9,962.9 303.2,963.0 303.5,961.6 303.8,960.8 304.1,963.3 304.4,966.2 304.7,963.6 305.0,965.4 305.3,959.2 305.6,972.0 305.9,959.4 306.2,960.5 306.5,969.8 306.8,970.3 307.1,971.4 307.4,959.9 307.7,958.8 308.0,958.0 308.3,966.6 308.6,969.7 308.9,967.6 309.2,938.6 309.5,938.6 309.8,938.6 310.1,965.4 310.4,963.7 310.7,964.4 311.0,965.4 311.3,963.7 311.6,963.2 311.9,963.9 312.2,965.4 312.5,968.2 312.8,963.2 313.1,964.5 313.4,963.0 313.7,964.7 314.0,964.3 314.3,964.7 314.6,964.1 314.9,962.3 315.2,971.1 315.5,971.9 315.8,971.6 316.1,970.8 316.4,966.4 316.7,963.5 317.0,963.5 317.3,964.8 317.6,964.9 317.9,962.7 318.2,962.3 318.5,961.0 318.8,960.4 319.1,967.8 319.4,970.0 319.7,965.4 320.0,966.4 320.3,965.3 320.6,964.6 320.9,965.4 321.2,967.8 321.5,968.9 321.8,969.5 322.1,940.9 322.4,940.9 322.7,940.9 323.0,966.5 323.3,968.2 323.6,968.0 323.9,960.0 324.2,967.9 324.5,966.7 324.8,965.5 325.1,969.1 325.4,968.5 325.7,970.1 326.0,969.5 326.3,968.8 326.6,968.0 326.9,967.5 327.2,967.3 327.5,956.5 327.8,956.5 328.1,956.5 328.4,967.5 328.7,967.5 329.0,967.5 329.3,969.8 329.6,968.9 329.9,969.0 330.2,969.8 330.5,968.3 330.8,967.5 331.1,966.3 331.4,968.4 331.7,965.7 332.0,964.3 332.3,965.6 332.6,965.4 332.9,963.2 333.2,971.1 333.5,970.7 333.8,969.8 334.1,957.6 334.4,957.6 334.7,957.6 335.0,968.6 335.3,967.3 335.6,967.7 335.9,961.6 336.2,961.5 336.5,963.0 336.8,964.0 337.1,963.2 337.4,962.4 337.7,963.7 338.0,960.3 338.3,960.6 338.6,961.8 338.9,959.6 339.2,955.7 339.5,955.7 339.8,955.7 340.1,968.5 340.4,964.1 340.7,964.4 341.0,970.0 341.3,970.6 341.6,970.8 341.9,960.7 342.2,962.4 342.5,962.7 342.8,971.5 343.1,970.4 343.4,968.1 343.7,958.4 344.0,958.4 344.3,958.4 344.6,964.8 344.9,969.3 345.2,969.6 345.5,971.3 345.8,970.1 346.1,971.0 346.4,970.8 346.7,970.6 347.0,968.8 347.3,967.4 347.6,965.5 347.9,965.2 348.2,965.3 348.5,967.1 348.8,962.2 349.1,962.4 349.4,964.7 349.7,964.9 350.0,960.1 350.3,961.0 350.6,956.5 350.9,956.5 351.2,956.5 351.5,965.7 351.8,967.0 352.1,969.8 352.4,969.6 352.7,968.6 353.0,971.1 353.3,964.0 353.6,964.4 353.9,965.5 354.2,965.2 354.5,967.0 354.8,965.7 355.1,965.0 355.4,963.6 355.7,964.5 356.0,965.0 356.3,969.5 356.6,970.9 356.9,971.8 357.2,971.9 357.5,970.0 357.8,971.9 358.1,971.8 358.4,968.5 358.7,961.1 359.0,960.1 359.3,959.3 359.6,960.4 359.9,962.8 360.2,961.7 360.5,962.1 360.8,972.8 361.1,974.2 361.4,955.7 361.7,955.7 362.0,955.7 362.3,967.3 362.6,966.5 362.9,964.2 363.2,962.7 363.5,968.2 363.8,967.1 364.1,966.3 364.4,967.9 364.7,968.8 365.0,967.2 365.3,969.4 365.6,970.6 365.9,971.7 366.2,972.6 366.5,973.2 366.8,973.0 367.1,975.7 367.4,975.2 367.7,973.8 368.0,968.8 368.3,969.6 368.6,968.8 368.9,971.1 369.2,970.0 369.5,969.9 369.8,960.2 370.1,959.9 370.4,960.2 370.7,961.3 371.0,960.9 371.3,965.8 371.6,965.0 371.9,973.4 372.2,961.6 372.5,963.2 372.8,962.0 373.1,971.3 373.4,967.1 373.7,973.2 374.0,972.2 374.3,974.3 374.6,967.7 374.9,956.5 375.2,956.5 375.5,956.5 375.8,966.1 376.1,966.7 376.4,972.2 376.7,970.5 377.0,970.2 377.3,971.0 377.6,971.4 377.9,955.7 378.2,955.7 378.5,955.7 378.8,961.6 379.1,962.2 379.4,964.4 379.7,965.6 380.0,974.1 380.3,976.5 380.6,976.9 380.9,980.4 381.2,980.4 381.5,983.6 381.8,984.5 382.1,984.7 382.4,985.6 382.7,989.2 383.0,989.1 383.3,991.3 383.6,993.4 383.9,993.8 384.2,980.8 384.5,982.5 384.8,981.1 385.1,981.9 385.4,983.6 385.7,984.8 386.0,984.1 386.3,985.8 386.6,985.2 386.9,990.7 387.2,991.1 387.5,990.8 387.8,989.5 388.1,992.9 388.4,994.0 388.7,992.9 389.0,993.4 389.3,994.5 389.6,992.9 389.9,994.0 390.2,993.6 390.5,990.5 390.8,988.6 391.1,989.1 391.4,988.5 391.7,987.9 392.0,985.3 392.3,988.3 392.6,987.7 392.9,990.6 393.2,988.7 393.5,991.4 393.8,990.6 394.1,989.5 394.4,988.2 394.7,989.1 395.0,986.1 395.3,984.7 395.6,989.6 395.9,986.8 396.2,986.3 396.5,986.4 396.8,985.9 397.1,980.9 397.4,980.3 397.7,991.5 398.0,991.4 398.3,990.9 398.6,989.0 398.9,989.7 399.2,985.1 399.5,986.6 399.8,985.9 400.1,985.0 400.4,984.3 400.7,985.6 401.0,989.7 401.3,979.3 401.6,976.3 401.9,977.6 402.2,979.1 402.5,976.6 402.8,988.5 403.1,978.7 403.4,978.5 403.7,978.9 404.0,979.3 404.3,979.1 404.6,980.1 404.9,975.0 405.2,974.4 405.5,974.7 405.8,973.5 406.1,978.6 406.4,979.3 406.7,984.7 407.0,980.1 407.3,979.4 407.6,980.0 407.9,980.2 408.2,979.4 408.5,977.5 408.8,976.8 409.1,976.5 409.4,971.6 409.7,973.9 410.0,975.0 410.3,975.8 410.6,976.4 410.9,978.0 411.2,978.8 411.5,977.6 411.8,977.6 412.1,978.5 412.4,978.4 412.7,977.8 413.0,977.4 413.3,979.4 413.6,980.0 413.9,974.1 414.2,956.5 414.5,956.5 414.8,956.5 415.1,980.0 415.4,972.4 415.7,971.8 416.0,974.0 416.3,973.7 416.6,972.8 416.9,976.3 417.2,974.5 417.5,974.4 417.8,974.3 418.1,974.8 418.4,974.7 418.7,956.5 419.0,956.5 419.3,956.5 419.6,974.9 419.9,973.6 420.2,973.1 420.5,981.6 420.8,982.0 421.1,982.4 421.4,983.1 421.7,971.2 422.0,972.5 422.3,968.8 422.6,957.3 422.9,957.3 423.2,957.3 423.5,983.2 423.8,983.2 424.1,982.9 424.4,983.1 424.7,979.5 425.0,980.3 425.3,978.5 425.6,979.5 425.9,980.6 426.2,977.8 426.5,974.2 426.8,979.5 427.1,981.6 427.4,955.7 427.7,955.7 428.0,955.7 428.3,970.5 428.6,973.2 428.9,972.8 429.2,973.2 429.5,973.7 429.8,974.0 430.1,973.7 430.4,983.3 430.7,983.5 431.0,983.1 431.3,983.4 431.6,984.0 431.9,971.2 432.2,972.2 432.5,926.4 432.8,926.4 433.1,926.4 433.4,980.0 433.7,976.4 434.0,974.3 434.3,972.6 434.6,974.0 434.9,978.2 435.2,981.2 435.5,977.5 435.8,978.1 436.1,976.4 436.4,975.6 436.7,976.8 437.0,976.7 437.3,975.2 437.6,975.7 437.9,976.2 438.2,976.8 438.5,976.7 438.8,978.5 439.1,977.0 439.4,981.9 439.7,982.8 440.0,982.6 440.3,981.6 440.6,980.5 440.9,977.9 441.2,983.3 441.5,983.3 441.8,973.6 442.1,973.6 442.4,973.6 442.7,987.2 443.0,988.1 443.3,988.1 443.6,988.8 443.9,988.6 444.2,989.0 444.5,989.9 444.8,990.1 445.1,990.0 445.4,991.0 445.7,987.0 446.0,978.5 446.3,980.1 446.6,979.8 446.9,977.7 447.2,978.1 447.5,983.6 447.8,983.2 448.1,975.9 448.4,976.4 448.7,976.7 449.0,975.1 449.3,975.8 449.6,976.2 449.9,977.9 450.2,977.7 450.5,978.9 450.8,978.6 451.1,979.2 451.4,981.5 451.7,982.9 452.0,980.3 452.3,982.1 452.6,977.3 452.9,975.3 453.2,975.5 453.5,974.6 453.8,973.1 454.1,957.3 454.4,957.3 454.7,957.3 455.0,986.8 455.3,975.1 455.6,985.1 455.9,986.8 456.2,985.7 456.5,985.1 456.8,984.4 457.1,983.9 457.4,983.4 457.7,983.1 458.0,981.8 458.3,979.1 458.6,980.4 458.9,981.1 459.2,980.9 459.5,981.3 459.8,973.6 460.1,973.6 460.4,973.6 460.7,976.9 461.0,978.2 461.3,979.2 461.6,980.5 461.9,979.6 462.2,980.5 462.5,978.6 462.8,985.1 463.1,981.0 463.4,980.3 463.7,981.3 464.0,982.0 464.3,982.0 464.6,981.1 464.9,981.4 465.2,983.1 465.5,983.1 465.8,983.1 466.1,983.3 466.4,985.8 466.7,987.6 467.0,974.6 467.3,985.5 467.6,957.3 467.9,957.3 468.2,957.3 468.5,986.0 468.8,983.7 469.1,983.3 469.4,984.1 469.7,983.9 470.0,984.8 470.3,986.1 470.6,986.9 470.9,989.8 471.2,987.5 471.5,977.3 471.8,976.3 472.1,975.7 472.4,976.0 472.7,973.5 473.0,980.5 473.3,979.9 473.6,971.7 473.9,971.7 474.2,971.7 474.5,974.3 474.8,976.8 475.1,984.1 475.4,987.8 475.7,977.1 476.0,978.2 476.3,979.0 476.6,981.3 476.9,982.2 477.2,984.1 477.5,982.5 477.8,982.8 478.1,981.7 478.4,976.7 478.7,976.2 479.0,975.2 479.3,977.5 479.6,981.1 479.9,945.1 480.2,945.1 480.5,945.1 480.8,984.3 481.1,983.8 481.4,983.3 481.7,983.1 482.0,975.0 482.3,980.7 482.6,980.6 482.9,981.3 483.2,983.5 483.5,983.4 483.8,984.4 484.1,983.2 484.4,983.0 484.7,971.7 485.0,971.7 485.3,971.7 485.6,978.0 485.9,978.5 486.2,980.7 486.5,981.0 486.8,982.3 487.1,981.7 487.4,981.6 487.7,982.6 488.0,987.8 488.3,988.2 488.6,990.7 488.9,990.6 489.2,990.5 489.5,991.7 489.8,990.8 490.1,991.4 490.4,990.1 490.7,991.2 491.0,991.8 491.3,985.8 491.6,981.9 491.9,981.5 492.2,978.5 492.5,982.3 492.8,974.4 493.1,974.4 493.4,974.4 493.7,983.7 494.0,983.2 494.3,978.7 494.6,981.7 494.9,986.4 495.2,988.6 495.5,990.1 495.8,990.4 496.1,986.1 496.4,986.3 496.7,988.7 497.0,990.3 497.3,988.7 497.6,988.5 497.9,989.2 498.2,986.6 498.5,986.6 498.8,986.6 499.1,990.9 499.4,991.0 499.7,992.1 500.0,993.1 500.3,993.3 500.6,994.4 500.9,994.5 501.2,997.0 501.5,996.8 501.8,993.9 502.1,993.5 502.4,994.1 502.7,992.8 503.0,995.2 503.3,996.4 503.6,996.1 503.9,995.8 504.2,988.6 504.5,988.7 504.8,988.3 505.1,985.4 505.4,993.4 505.7,995.4 506.0,994.9 506.3,997.6 506.6,987.0 506.9,987.0 507.2,987.0 507.5,994.3 507.8,992.7 508.1,993.9 508.4,994.5 508.7,995.5 509.0,994.8 509.3,996.0 509.6,997.2 509.9,997.8 510.2,1001.5 510.5,997.1 510.8,1003.4 511.1,1003.5 511.4,1004.3 511.7,1008.9 512.0,1009.9 512.3,1007.3 512.6,1009.4 512.9,1009.1 513.2,1003.1 513.5,1001.1 513.8,1000.8 514.1,998.8 514.4,997.5 514.7,994.7 515.0,1003.9 515.3,1003.6 515.6,1002.9 515.9,1003.4 516.2,1004.7 516.5,1005.1 516.8,1005.0 517.1,1005.4 517.4,997.3 517.7,1000.6 518.0,1000.6 518.3,994.6 518.6,993.6 518.9,993.6 519.2,993.4 519.5,992.8 519.8,991.9 520.1,991.7 520.4,970.2 520.7,970.2 521.0,970.2 521.3,1004.7 521.6,1006.1 521.9,1004.1 522.2,1004.0 522.5,1002.1 522.8,1002.6 523.1,1004.7 523.4,1005.0 523.7,1003.5 524.0,1002.8 524.3,1003.3 524.6,1003.5 524.9,997.7 525.2,998.4 525.5,999.6 525.8,999.8 526.1,999.2 526.4,1000.1" fill="none" stroke="#e08e35" stroke-width="2.4" stroke-linejoin="round"/><polyline points="124.7,947.2 125.6,958.8 126.5,974.2 127.4,984.9 128.3,997.4 129.2,1004.8 130.1,1009.7 131.0,1019.1 131.9,1026.7 132.8,1029.5 133.7,1028.0 134.6,1027.4 135.5,1024.5 136.4,1024.3 137.3,1023.6 138.2,1023.7 139.1,1024.7 140.0,1024.9 140.9,1021.9 141.8,1016.3 142.7,1012.1 143.6,1008.3 144.5,1004.4 145.4,1003.4 146.3,999.3 147.2,996.3 148.1,993.5 149.0,996.2 149.9,996.6 150.8,999.3 151.7,998.5 152.6,1001.2 153.5,1001.1 154.4,999.0 155.3,1003.5 156.2,1000.8 157.1,1002.1 158.0,1003.0 158.9,1001.0 159.8,999.9 160.7,998.2 161.6,998.6 162.5,998.0 163.4,996.9 164.3,997.0 165.2,995.6 166.1,996.2 167.0,993.8 167.9,996.8 168.8,995.6 169.7,995.3 170.6,996.6 171.5,992.0 172.4,997.0 173.3,994.5 174.2,994.7 175.1,992.2 176.0,996.3 176.9,992.7 177.8,994.7 178.7,994.0 179.6,994.5 180.5,992.9 181.4,994.9 182.3,993.6 183.2,993.1 184.1,991.4 185.0,996.3 185.9,991.9 186.8,992.6 187.7,994.3 188.6,993.4 189.5,994.4 190.4,992.0 191.3,993.7 192.2,994.2 193.1,994.3 194.0,994.3 194.9,994.3 195.8,995.2 196.7,991.5 197.6,994.9 198.5,995.7 199.4,990.6 200.3,989.9 201.2,987.0 202.1,987.8 203.0,987.2 203.9,985.3 204.8,982.8 205.7,987.4 206.6,986.8 207.5,978.6 208.4,983.2 209.3,988.2 210.2,976.6 211.1,981.7 212.0,986.1 212.9,987.9 213.8,982.6 214.7,986.3 215.6,986.8 216.5,988.5 217.4,986.9 218.3,982.5 219.2,989.0 220.1,992.4 221.0,983.5 221.9,984.0 222.8,979.8 223.7,977.0 224.6,980.9 225.5,979.9 226.4,978.7 227.3,981.5 228.2,974.4 229.1,971.1 230.0,974.3 230.9,974.6 231.8,973.6 232.7,974.4 233.6,973.5 234.5,971.4 235.4,972.2 236.3,970.1 237.2,973.4 238.1,966.9 239.0,968.0 239.9,972.2 240.8,976.3 241.7,968.6 242.6,964.9 243.5,971.2 244.4,970.3 245.3,970.6 246.2,966.5 247.1,971.8 248.0,965.3 248.9,969.7 249.8,965.5 250.7,968.6 251.6,969.4 252.5,973.6 253.4,970.8 254.3,969.3 255.2,966.1 256.1,967.4 257.0,970.6 257.9,966.7 258.8,964.7 259.7,968.5 260.6,969.5 261.5,969.4 262.4,965.3 263.3,966.3 264.2,971.4 265.1,967.0 266.0,970.0 266.9,971.0 267.8,964.3 268.7,965.8 269.6,971.1 270.5,968.5 271.4,967.1 272.3,971.1 273.2,969.3 274.1,966.7 275.0,975.2 275.9,968.0 276.8,966.7 277.7,967.6 278.6,974.0 279.5,968.3 280.4,972.4 281.3,967.5 282.2,967.4 283.1,968.7 284.0,972.1 284.9,971.5 285.8,966.5 286.7,972.5 287.6,967.8 288.5,967.7 289.4,970.4 290.3,961.3 291.2,969.4 292.1,962.4 293.0,976.8 293.9,977.7 294.8,966.8 295.7,968.3 296.6,971.3 296.8,972.0 297.1,976.2 297.3,976.0 297.6,977.6 297.8,970.8 298.1,968.7 298.3,970.4 298.6,980.7 298.8,974.5 299.1,972.7 299.3,989.2 299.6,991.0 299.8,992.8 300.1,992.4 300.3,990.8 300.6,987.8 300.8,987.7 301.1,987.9 301.3,986.5 301.6,978.2 301.8,977.7 302.1,977.1 302.3,1009.9 302.6,1009.9 302.8,1008.0 303.1,980.0 303.3,978.8 303.6,979.6 303.8,998.8 304.1,997.8 304.3,1007.4 304.6,969.5 304.8,973.4 305.1,974.9 305.3,973.3 305.6,974.0 305.8,971.6 306.1,978.2 306.3,980.2 306.6,983.1 306.8,980.2 307.1,985.6 307.3,987.7 307.6,991.1 307.8,991.4 308.1,988.5 308.3,987.6 308.6,991.4 308.8,992.3 309.1,972.2 309.3,974.6 309.6,977.6 309.8,976.1 310.1,977.8 310.3,965.8 310.6,974.9 310.8,974.8 311.1,970.2 311.3,979.0 311.6,986.7 311.8,985.5 312.1,988.2 312.3,970.2 312.6,968.5 312.8,971.2 313.1,971.0 313.3,994.6 313.6,996.6 313.8,996.9 314.1,1007.2 314.3,1007.8 314.6,1006.5 314.8,1007.4 315.1,1004.5 315.3,1005.8 315.6,1000.8 315.8,1003.6 316.1,985.3 316.3,986.0 316.6,987.8 316.8,989.1 317.1,991.1 317.3,991.9 317.6,994.5 317.8,992.6 318.1,992.5 318.3,991.1 318.6,987.4 318.8,1006.0 319.1,967.7 319.3,968.7 319.6,981.1 319.8,981.3 320.1,981.7 320.3,972.2 320.6,978.1 320.8,978.9 321.1,965.3 321.3,986.0 321.6,967.9 321.8,967.9 322.1,967.9 322.3,967.9 322.6,972.8 322.8,973.1 323.1,969.9 323.3,970.8 323.6,971.0 323.8,972.2 324.1,971.0 324.3,968.5 324.6,972.7 324.8,985.5 325.1,974.2 325.3,975.5 325.6,1010.6 325.8,1012.3 326.1,1015.4 326.3,1003.3 326.6,1004.2 326.8,982.9 327.1,984.0 327.3,982.6 327.6,982.3 327.8,984.1 328.1,1010.0 328.3,971.0 328.6,1002.6 328.8,1001.3 329.1,1004.3 329.3,984.3 329.6,985.4 329.8,988.3 330.1,988.9 330.3,987.1 330.6,987.7 330.8,991.2 331.1,995.2 331.3,977.1 331.6,977.1 331.8,977.2 332.1,979.6 332.3,979.5 332.6,988.2 332.8,989.5 333.1,991.2 333.3,990.4 333.6,991.0 333.8,989.3 334.1,999.9 334.3,999.4 334.6,971.9 334.8,974.2 335.1,974.9 335.3,966.0 335.6,969.1 335.8,969.0 336.1,1010.7 336.3,1001.0 336.6,1003.2 336.8,1005.7 337.1,970.3 337.3,969.0 337.6,971.3 337.8,976.0 338.1,976.0 338.3,985.7 338.6,966.0 338.8,966.0 339.1,966.0 339.3,966.0 339.6,1002.2 339.8,1001.8 340.1,999.9 340.3,990.1 340.6,1001.6 340.8,980.7 341.1,995.7 341.3,977.7 341.6,977.1 341.8,1006.6 342.1,1007.9 342.3,965.1 342.6,966.5 342.8,1010.8 343.1,1011.7 343.3,1010.6 343.6,1011.4 343.8,1010.0 344.1,1014.1 344.3,974.3 344.6,972.9 344.8,972.1 345.1,981.2 345.3,980.1 345.6,980.7 345.8,979.4 346.1,981.5 346.3,983.9 346.6,985.4 346.8,974.5 347.1,974.3 347.3,985.8 347.6,983.7 347.8,983.4 348.1,982.2 348.3,981.4 348.6,978.5 348.8,981.3 349.1,981.5 349.3,1004.0 349.6,1005.8 349.8,987.1 350.1,983.8 350.3,998.3 350.6,996.9 350.8,996.8 351.1,979.4 351.3,982.1 351.6,984.3 351.8,1011.7 352.1,1011.4 352.3,1011.1 352.6,987.9 352.8,987.2 353.1,983.6 353.3,983.3 353.6,978.8 353.8,975.1 354.1,979.1 354.3,978.4 354.6,976.8 354.8,976.0 355.1,971.6 355.3,973.2 355.6,965.1 355.8,988.1 356.1,991.9 356.3,994.0 356.6,991.3 356.8,991.6 357.1,995.8 357.3,993.5 357.6,996.9 357.8,996.5 358.1,995.1 358.3,995.9 358.6,997.0 358.8,974.2 359.1,983.4 359.3,985.3 359.6,982.6 359.8,1007.1 360.1,1006.1 360.3,1005.6 360.6,1000.1 360.8,1001.0 361.1,1006.9 361.3,1009.3 361.6,983.3 361.8,983.7 362.1,983.2 362.3,990.3 362.6,977.0 362.8,1009.5 363.1,1011.1 363.3,1007.7 363.6,1008.2 363.8,1014.1 364.1,1014.5 364.3,1014.0 364.6,984.5 364.8,985.8 365.1,974.8 365.3,974.1 365.6,973.6 365.8,970.8 366.1,972.2 366.3,973.7 366.6,999.4 366.8,999.9 367.1,1002.8 367.3,1002.2 367.6,1003.9 367.8,1005.1 368.1,998.5 368.3,1000.4 368.6,970.6 368.8,971.2 369.1,970.2 369.3,968.8 369.6,966.6 369.8,969.6 370.1,967.1 370.3,966.6 370.6,967.2 370.8,964.1 371.1,981.7 371.3,977.7 371.6,980.8 371.8,986.6 372.1,983.1 372.3,967.1 372.6,984.0 372.8,991.7 373.1,1010.4 373.3,972.3 373.6,974.8 373.8,992.2 374.1,1003.7 374.3,990.1 374.6,987.6 374.8,990.4 375.1,974.1 375.3,973.7 375.6,973.2 375.8,995.7 376.1,990.8 376.3,989.3 376.6,1006.1 376.8,1006.3 377.1,1007.0 377.3,1006.0 377.6,993.0 377.8,991.5 378.1,979.4 378.3,980.2 378.6,1008.8 378.8,1009.0 379.1,1012.2 379.3,1015.1 379.6,1014.9 379.8,972.5 380.1,971.0 380.3,966.9 380.6,1017.6 380.8,988.6 381.1,989.0 381.3,989.4 381.6,987.0 381.8,987.8 382.1,986.4 382.3,985.6 382.6,995.4 382.8,997.4 383.1,979.6 383.3,979.0 383.6,978.8 383.8,980.9 384.1,1020.2 384.3,1022.5 384.6,997.4 384.8,995.5 385.1,991.9 385.3,996.9 385.6,998.1 385.8,999.3 386.1,999.7 386.3,1000.9 386.6,1004.5 386.8,991.2 387.1,989.5 387.3,1002.3 387.6,998.8 387.8,1001.8 388.1,1001.3 388.3,1014.0 388.6,1010.7 388.8,993.9 389.1,993.2 389.3,991.8 389.6,995.8 389.8,996.7 390.1,998.1 390.3,997.5 390.6,1026.9 390.8,1027.0 391.1,1027.7 391.3,1039.6 391.6,1039.9 391.8,1042.6 392.1,1045.5 392.3,1006.8 392.6,1005.5 392.8,1005.7 393.1,1006.1 393.3,1003.3 393.6,1012.2 393.8,1015.2 394.1,1027.0 394.3,1022.4 394.6,1022.1 394.8,1021.2 395.1,1020.5 395.3,1021.8 395.6,1021.9 395.8,1022.9 396.1,1025.8 396.3,1025.6 396.6,1027.6 396.8,1024.1 397.1,1023.9 397.3,1018.6 397.6,1021.0 397.8,1022.1 398.1,1018.0 398.3,1048.0 398.6,1014.5 398.8,1010.6 399.1,1008.0 399.3,1044.9 399.6,1014.1 399.8,1038.9 400.1,1037.7 400.3,1016.5 400.6,1017.2 400.8,1017.7 401.1,1004.0 401.3,1004.3 401.6,1003.6 401.8,1006.2 402.1,999.7 402.3,990.4 402.6,1004.8 402.8,1008.7 403.1,1008.1 403.3,1005.4 403.6,1003.2 403.8,1007.3 404.1,1008.0 404.3,1011.3 404.6,1022.5 404.8,1024.3 405.1,988.7 405.3,984.3 405.6,984.5 405.8,1024.1 406.1,1025.7 406.3,1023.5 406.6,998.1 406.8,1027.6 407.1,1009.8 407.3,1031.7 407.6,1031.1 407.8,1030.6 408.1,1009.9 408.3,987.0 408.6,989.3 408.8,1034.4 409.1,1034.6 409.3,1000.3 409.6,1000.8 409.8,999.2 410.1,1015.2 410.3,1009.1 410.6,1008.2 410.8,1008.8 411.1,1008.3 411.3,1005.7 411.6,1009.6 411.8,1009.9 412.1,991.7 412.3,988.9 412.6,992.7 412.8,996.5 413.1,1038.6 413.3,1036.7 413.6,998.9 413.8,996.6 414.1,1027.4 414.3,1030.5 414.6,967.9 414.8,967.9 415.1,967.9 415.3,967.9 415.6,993.1 415.8,1025.3 416.1,1025.1 416.3,1002.1 416.6,1001.8 416.8,1003.3 417.1,1004.5 417.3,1023.1 417.6,1028.4 417.8,1011.0 418.1,1014.4 418.3,1011.5 418.6,1012.3 418.8,1010.7 419.1,1011.7 419.3,1010.2 419.6,995.9 419.8,997.6 420.1,1033.7 420.3,1005.6 420.6,1006.7 420.8,1008.8 421.1,1012.3 421.3,1012.6 421.6,1011.7 421.8,1007.1 422.1,1003.7 422.3,1004.9 422.6,1004.4 422.8,981.8 423.1,998.4 423.3,1000.5 423.6,1013.6 423.8,1009.9 424.1,1003.9 424.3,1007.9 424.6,1009.4 424.8,1003.8 425.1,1007.5 425.3,996.4 425.6,993.0 425.8,993.6 426.1,994.4 426.3,994.1 426.6,983.4 426.8,983.4 427.1,985.7 427.3,986.6 427.6,984.5 427.8,984.0 428.1,1005.0 428.3,989.1 428.6,990.7 428.8,1036.7 429.1,1036.5 429.3,1036.4 429.6,1028.7 429.8,994.7 430.1,1011.8 430.3,1009.7 430.6,1011.8 430.8,1033.8 431.1,991.5 431.3,988.6 431.6,996.0 431.8,997.1 432.1,990.9 432.3,989.6 432.6,944.7 432.8,944.7 433.1,944.7 433.3,944.7 433.6,983.8 433.8,988.9 434.1,1008.3 434.3,1008.5 434.6,1006.1 434.8,1004.1 435.1,982.6 435.3,1004.1 435.6,1002.7 435.8,994.8 436.1,1008.5 436.3,1009.7 436.6,983.3 436.8,982.1 437.1,981.0 437.3,1000.4 437.6,999.8 437.8,1000.3 438.1,1000.4 438.3,994.5 438.6,995.5 438.8,996.1 439.1,991.6 439.3,987.9 439.6,1005.8 439.8,992.2 440.1,996.2 440.3,991.0 440.6,1007.0 440.8,1005.1 441.1,1004.9 441.3,1000.9 441.6,1002.6 441.8,983.1 442.1,991.8 442.3,989.8 442.6,991.3 442.8,990.8 443.1,996.4 443.3,995.2 443.6,1006.2 443.8,1004.0 444.1,1001.2 444.3,996.5 444.6,999.3 444.8,999.4 445.1,1001.9 445.3,1000.7 445.6,996.9 445.8,993.5 446.1,994.8 446.3,1003.3 446.6,981.8 446.8,985.3 447.1,985.1 447.3,1006.3 447.6,1008.5 447.8,996.3 448.1,997.9 448.3,997.4 448.6,984.4 448.8,984.6 449.1,990.9 449.3,986.3 449.6,985.1 449.8,984.1 450.1,999.9 450.3,1001.1 450.6,1001.8 450.8,1001.7 451.1,992.3 451.3,991.7 451.6,993.6 451.8,993.1 452.1,994.8 452.3,994.8 452.6,993.9 452.8,997.5 453.1,995.3 453.3,995.5 453.6,1006.0 453.8,1006.9 454.1,1012.0 454.3,1013.7 454.6,984.6 454.8,984.1 455.1,990.3 455.3,993.3 455.6,988.7 455.8,987.6 456.1,1006.2 456.3,992.9 456.6,1012.7 456.8,988.8 457.1,987.9 457.3,995.0 457.6,996.3 457.8,1011.2 458.1,1010.5 458.3,986.8 458.6,984.4 458.8,986.0 459.1,988.8 459.3,996.9 459.6,997.4 459.8,999.9 460.1,985.9 460.3,985.7 460.6,991.7 460.8,992.0 461.1,992.2 461.3,995.3 461.6,986.2 461.8,987.1 462.1,986.2 462.3,999.1 462.6,1000.0 462.8,1000.0 463.1,997.3 463.3,997.9 463.6,997.3 463.8,997.9 464.1,995.6 464.3,1004.8 464.6,989.4 464.8,989.6 465.1,983.8 465.3,985.1 465.6,983.9 465.8,985.0 466.1,985.1 466.3,985.1 466.6,985.3 466.8,986.4 467.1,990.4 467.3,991.7 467.6,991.7 467.8,983.3 468.1,987.1 468.3,986.9 468.6,987.2 468.8,988.2 469.1,988.8 469.3,995.0 469.6,994.6 469.8,996.0 470.1,996.7 470.3,996.5 470.6,999.3 470.8,1001.5 471.1,1000.2 471.3,999.7 471.6,1000.7 471.8,992.8 472.1,998.3 472.3,997.6 472.6,995.4 472.8,996.5 473.1,997.1 473.3,998.7 473.6,983.0 473.8,983.9 474.1,1011.8 474.3,1011.5 474.6,1010.8 474.8,992.1 475.1,991.7 475.3,992.6 475.6,992.5 475.8,992.1 476.1,993.0 476.3,998.3 476.6,991.5 476.8,1005.3 477.1,998.8 477.3,996.5 477.6,996.0 477.8,1005.6 478.1,1003.2 478.3,1004.3 478.6,1003.5 478.8,1004.9 479.1,1006.2 479.3,1011.5 479.6,1012.0 479.8,990.5 480.1,975.5 480.3,975.5 480.6,975.5 480.8,989.8 481.1,989.4 481.3,990.7 481.6,1009.0 481.8,1006.5 482.1,996.2 482.3,994.7 482.6,993.3 482.8,993.7 483.1,998.3 483.3,998.7 483.6,999.0 483.8,1011.5 484.1,1004.6 484.3,1006.3 484.6,1008.1 484.8,1008.9 485.1,996.9 485.3,996.3 485.6,991.4 485.8,990.9 486.1,990.1 486.3,984.7 486.6,990.4 486.8,992.5 487.1,992.8 487.3,991.0 487.6,992.5 487.8,994.8 488.1,993.6 488.3,992.1 488.6,991.3 488.8,991.4 489.1,990.9 489.3,991.4 489.6,993.6 489.8,990.8 490.1,991.3 490.3,988.4 490.6,986.9 490.8,999.0 491.1,989.2 491.3,988.9 491.6,989.2 491.8,991.3 492.1,999.4 492.3,998.9 492.6,1008.4 492.8,1009.3 493.1,1010.1 493.3,1010.1 493.6,1010.0 493.8,1009.4 494.1,1009.0 494.3,990.5 494.6,986.6 494.8,988.2 495.1,992.2 495.3,993.8 495.6,994.2 495.8,995.4 496.1,994.9 496.3,995.1 496.6,995.6 496.8,1005.0 497.1,1006.2 497.3,1004.0 497.6,1003.9 497.8,1003.9 498.1,1003.2 498.3,998.8 498.6,999.0 498.8,1000.1 499.1,999.3 499.3,1011.3 499.6,996.6 499.8,1008.1 500.1,1009.5 500.3,1011.9 500.6,1000.7 500.8,1000.4 501.1,1001.2 501.3,1000.9 501.6,1001.8 501.8,1002.3 502.1,1016.4 502.3,1017.0 502.6,1017.4 502.8,996.4 503.1,996.6 503.3,997.2 503.6,995.2 503.8,995.3 504.1,998.5 504.3,1000.5 504.6,998.3 504.8,998.5 505.1,998.0 505.3,996.5 505.6,997.6 505.8,1007.5 506.1,1005.5 506.3,1006.1 506.6,1022.7 506.8,1023.3 507.1,1011.0 507.3,1008.6 507.6,1020.6 507.8,1010.9 508.1,1000.9 508.3,1001.7 508.6,1002.0 508.8,1028.2 509.1,1024.4 509.3,1024.7 509.6,1023.9 509.8,1019.7 510.1,1013.1 510.3,1012.5 510.6,1005.3 510.8,1024.2 511.1,1025.3 511.3,1012.2 511.6,1012.8 511.8,1026.9 512.1,1026.3 512.3,1029.1 512.6,1028.2 512.8,1028.3 513.1,1027.4 513.3,1013.9 513.6,1008.4 513.8,1010.1 514.1,1009.9 514.3,1010.8 514.6,1006.8 514.8,1025.3 515.1,1025.8 515.3,1025.5 515.6,1010.6 515.8,1011.9 516.1,1031.0 516.3,1028.9 516.6,1030.5 516.8,1029.4 517.1,1018.6 517.3,1020.2 517.6,1019.6 517.8,1015.5 518.1,1015.9 518.3,1016.3 518.6,1016.1 518.8,1015.4 519.1,1029.4 519.3,1030.3 519.6,1026.7 519.8,1026.2 520.1,1016.1 520.3,1015.5 520.6,1015.7 520.8,1021.8 521.1,1021.4 521.3,1022.8 521.6,1023.4 521.8,1024.7 522.1,1024.9 522.3,1024.1 522.6,1025.3 522.8,1023.5 523.1,1025.0 523.3,1017.6 523.6,1017.9 523.8,1018.0 524.1,1017.2 524.3,1017.3 524.6,1017.7 524.8,1019.2 525.1,1018.5 525.3,1018.7 525.6,1020.9 525.8,1020.5 526.1,1010.6 526.3,1009.4 526.6,1018.3" fill="none" stroke="#d2c03e" stroke-width="2.4" stroke-linejoin="round"/><line x1="142" y1="1051.8" x2="166" y2="1051.8" stroke="#8b3a1e" stroke-width="3"/><text x="166.5" y="1055.6" font-size="10.8" fill="#595959">SHIBOR:1周</text><line x1="244" y1="1051.8" x2="268" y2="1051.8" stroke="#e08e35" stroke-width="3"/><text x="268.5" y="1055.6" font-size="10.8" fill="#595959">SHIBOR:2周</text><line x1="345" y1="1051.8" x2="369" y2="1051.8" stroke="#d2c03e" stroke-width="3"/><text x="369.5" y="1055.6" font-size="10.8" fill="#595959">SHIBOR:隔夜</text></svg><svg class="abs" style="left:540px;top:870px;overflow:visible" width="540" height="280" viewBox="540 870 540 280"><rect x="549.6" y="881.4" width="517.4" height="257" fill="#ffffff"/><line x1="603.6" y1="900.3" x2="603.6" y2="1063.8" stroke="#595959" stroke-width="1"/><line x1="600" y1="1063.8" x2="603.6" y2="1063.8" stroke="#595959" stroke-width="1"/><text x="598.6" y="1067.3" text-anchor="end" font-size="10" fill="#595959" textLength="29.1" lengthAdjust="spacingAndGlyphs">-12,000</text><line x1="600" y1="1040.7" x2="603.6" y2="1040.7" stroke="#595959" stroke-width="1"/><text x="598.6" y="1044.2" text-anchor="end" font-size="10" fill="#595959" textLength="24.9" lengthAdjust="spacingAndGlyphs">-9,000</text><line x1="600" y1="1017.6" x2="603.6" y2="1017.6" stroke="#595959" stroke-width="1"/><text x="598.6" y="1021.1" text-anchor="end" font-size="10" fill="#595959" textLength="24.9" lengthAdjust="spacingAndGlyphs">-6,000</text><line x1="600" y1="994.6" x2="603.6" y2="994.6" stroke="#595959" stroke-width="1"/><text x="598.6" y="998.1" text-anchor="end" font-size="10" fill="#595959" textLength="24.9" lengthAdjust="spacingAndGlyphs">-3,000</text><line x1="600" y1="971.5" x2="603.6" y2="971.5" stroke="#595959" stroke-width="1"/><text x="598.6" y="975.0" text-anchor="end" font-size="10" fill="#595959" textLength="4.2" lengthAdjust="spacingAndGlyphs">0</text><line x1="600" y1="948.4" x2="603.6" y2="948.4" stroke="#595959" stroke-width="1"/><text x="598.6" y="951.9" text-anchor="end" font-size="10" fill="#595959" textLength="20.8" lengthAdjust="spacingAndGlyphs">3,000</text><line x1="600" y1="925.4" x2="603.6" y2="925.4" stroke="#595959" stroke-width="1"/><text x="598.6" y="928.9" text-anchor="end" font-size="10" fill="#595959" textLength="20.8" lengthAdjust="spacingAndGlyphs">6,000</text><line x1="600" y1="902.3" x2="603.6" y2="902.3" stroke="#595959" stroke-width="1"/><text x="598.6" y="905.8" text-anchor="end" font-size="10" fill="#595959" textLength="20.8" lengthAdjust="spacingAndGlyphs">9,000</text><text x="0" y="0" text-anchor="middle" font-size="9.5" fill="#595959" transform="translate(564,983.6) rotate(-90)">(亿元)</text><rect x="605.3" y="969.0" width="10.8" height="2.5" fill="#2477a9"/><rect x="605.3" y="971.5" width="10.8" height="47.6" fill="#f5891f"/><rect x="619.2" y="955.8" width="10.8" height="15.7" fill="#2477a9"/><rect x="619.2" y="971.5" width="10.8" height="15.1" fill="#f5891f"/><rect x="633.0" y="967.9" width="10.8" height="3.6" fill="#2477a9"/><rect x="633.0" y="971.5" width="10.8" height="4.9" fill="#f5891f"/><rect x="646.9" y="967.5" width="10.8" height="4.0" fill="#2477a9"/><rect x="646.9" y="971.5" width="10.8" height="4.3" fill="#f5891f"/><rect x="660.7" y="970.4" width="10.8" height="1.1" fill="#2477a9"/><rect x="660.7" y="971.5" width="10.8" height="5.1" fill="#f5891f"/><rect x="674.6" y="967.5" width="10.8" height="4.0" fill="#2477a9"/><rect x="674.6" y="971.5" width="10.8" height="1.6" fill="#f5891f"/><rect x="688.5" y="960.4" width="10.8" height="11.1" fill="#2477a9"/><rect x="688.5" y="971.5" width="10.8" height="12.4" fill="#f5891f"/><rect x="702.3" y="968.3" width="10.8" height="3.2" fill="#2477a9"/><rect x="702.3" y="971.5" width="10.8" height="4.3" fill="#f5891f"/><rect x="716.2" y="968.9" width="10.8" height="2.6" fill="#2477a9"/><rect x="716.2" y="971.5" width="10.8" height="3.2" fill="#f5891f"/><rect x="730.0" y="968.3" width="10.8" height="3.2" fill="#2477a9"/><rect x="730.0" y="971.5" width="10.8" height="4.0" fill="#f5891f"/><rect x="743.9" y="952.5" width="10.8" height="19.0" fill="#2477a9"/><rect x="743.9" y="971.5" width="10.8" height="19.7" fill="#f5891f"/><rect x="757.8" y="964.0" width="10.8" height="7.5" fill="#2477a9"/><rect x="757.8" y="971.5" width="10.8" height="4.0" fill="#f5891f"/><rect x="771.6" y="941.1" width="10.8" height="30.4" fill="#2477a9"/><rect x="771.6" y="971.5" width="10.8" height="8.0" fill="#f5891f"/><rect x="785.5" y="971.5" width="10.8" height="31.1" fill="#f5891f"/><rect x="799.3" y="962.9" width="10.8" height="8.6" fill="#2477a9"/><rect x="799.3" y="971.5" width="10.8" height="8.9" fill="#f5891f"/><rect x="813.2" y="969.6" width="10.8" height="1.9" fill="#2477a9"/><rect x="813.2" y="971.5" width="10.8" height="0.5" fill="#f5891f"/><rect x="827.1" y="971.0" width="10.8" height="0.5" fill="#2477a9"/><rect x="827.1" y="971.5" width="10.8" height="0.9" fill="#f5891f"/><rect x="840.9" y="971.3" width="10.8" height="0.2" fill="#2477a9"/><rect x="840.9" y="971.5" width="10.8" height="0.2" fill="#f5891f"/><rect x="868.6" y="940.2" width="10.8" height="31.3" fill="#2477a9"/><rect x="868.6" y="971.5" width="10.8" height="47.3" fill="#f5891f"/><rect x="924.1" y="940.2" width="10.8" height="31.3" fill="#2477a9"/><rect x="924.1" y="971.5" width="10.8" height="47.3" fill="#f5891f"/><rect x="937.9" y="963.9" width="10.8" height="7.6" fill="#2477a9"/><rect x="951.8" y="903.6" width="10.8" height="67.9" fill="#2477a9"/><rect x="965.7" y="970.5" width="10.8" height="1.0" fill="#2477a9"/><rect x="965.7" y="971.5" width="10.8" height="75.2" fill="#f5891f"/><rect x="979.5" y="932.4" width="10.8" height="39.1" fill="#2477a9"/><rect x="979.5" y="971.5" width="10.8" height="41.1" fill="#f5891f"/><rect x="993.4" y="906.1" width="10.8" height="65.4" fill="#2477a9"/><rect x="1007.2" y="962.9" width="10.8" height="8.6" fill="#2477a9"/><rect x="1007.2" y="971.5" width="10.8" height="65.9" fill="#f5891f"/><line x1="603.6" y1="971.5" x2="1019.7" y2="971.5" stroke="#404040" stroke-width="1"/><polyline points="610.7,1016.6 624.6,971.0 638.4,972.8 652.3,971.8 666.1,975.5 680.0,969.1 693.9,972.8 707.7,972.6 721.6,972.0 735.4,972.3 749.3,972.2 763.2,968.0 777.0,949.1 790.9,1002.6 804.7,971.8 818.6,970.0 832.5,972.0 846.3,971.5 860.2,971.5 874.0,987.5 887.9,971.5 901.8,971.5 915.6,971.5 929.5,987.5 943.3,963.9 957.2,903.6 971.1,1045.7 984.9,973.5 998.8,906.1 1012.6,1028.8" fill="none" stroke="#5cbcc0" stroke-width="1.6" opacity="0.9"/><text x="610.7" y="1081.2" text-anchor="middle" font-size="10" fill="#595959" textLength="44.5" lengthAdjust="spacingAndGlyphs">2022-04-02</text><text x="610.7" y="1092.0" text-anchor="middle" font-size="10" fill="#595959" textLength="44.5" lengthAdjust="spacingAndGlyphs">-2022-04-0</text><text x="610.7" y="1102.8" text-anchor="middle" font-size="10" fill="#595959">8</text><text x="693.9" y="1081.2" text-anchor="middle" font-size="10" fill="#595959" textLength="44.5" lengthAdjust="spacingAndGlyphs">2022-05-14</text><text x="693.9" y="1092.0" text-anchor="middle" font-size="10" fill="#595959" textLength="44.5" lengthAdjust="spacingAndGlyphs">-2022-05-2</text><text x="693.9" y="1102.8" text-anchor="middle" font-size="10" fill="#595959">0</text><text x="777.0" y="1081.2" text-anchor="middle" font-size="10" fill="#595959" textLength="44.5" lengthAdjust="spacingAndGlyphs">2022-06-25</text><text x="777.0" y="1092.0" text-anchor="middle" font-size="10" fill="#595959" textLength="44.5" lengthAdjust="spacingAndGlyphs">-2022-07-0</text><text x="777.0" y="1102.8" text-anchor="middle" font-size="10" fill="#595959">1</text><text x="860.2" y="1081.2" text-anchor="middle" font-size="10" fill="#595959" textLength="44.5" lengthAdjust="spacingAndGlyphs">2022-08-06</text><text x="860.2" y="1092.0" text-anchor="middle" font-size="10" fill="#595959" textLength="44.5" lengthAdjust="spacingAndGlyphs">-2022-08-1</text><text x="860.2" y="1102.8" text-anchor="middle" font-size="10" fill="#595959">2</text><text x="943.3" y="1081.2" text-anchor="middle" font-size="10" fill="#595959" textLength="44.5" lengthAdjust="spacingAndGlyphs">2022-09-17</text><text x="943.3" y="1092.0" text-anchor="middle" font-size="10" fill="#595959" textLength="44.5" lengthAdjust="spacingAndGlyphs">-2022-09-2</text><text x="943.3" y="1102.8" text-anchor="middle" font-size="10" fill="#595959">3</text><rect x="717.5" y="1108.6" width="16.5" height="13.4" rx="3" fill="#2477a9"/><text x="737" y="1119" font-size="10" fill="#595959" textLength="24.7" lengthAdjust="spacingAndGlyphs">投放量</text><rect x="768" y="1108.6" width="16.5" height="13.4" rx="3" fill="#f5891f"/><text x="788" y="1119" font-size="10" fill="#595959" textLength="24.7" lengthAdjust="spacingAndGlyphs">回笼量</text><line x1="819.5" y1="1115.3" x2="835.5" y2="1115.3" stroke="#5cbcc0" stroke-width="1.5"/><circle cx="827.5" cy="1115.3" r="3.3" fill="#5cbcc0"/><text x="839" y="1119" font-size="10" fill="#595959" textLength="33" lengthAdjust="spacingAndGlyphs">净投放量</text><text x="1004.5" y="1131" font-size="10" fill="#808080" textLength="60" lengthAdjust="spacingAndGlyphs">数据来源：Wind</text></svg><div class="abs gline" style="top:1192px"></div><div class="abs gline" style="top:1224.5px"></div><div class="abs src" style="left:28px;top:1197px">数据来源：<span class="m">wind</span>，中辉期货研发中心</div><div class="abs src" style="left:568px;top:1196px">数据来源：<span class="m">wind</span>，中辉期货研发中心</div><div class="band" style="top:1228px"></div><svg class="abs" style="left:0;top:1275.9px" width="1109" height="60" viewBox="0 0 1109 60"><rect x="881.1" y="6.1" width="6.8" height="7" fill="#595959"/><rect x="881.1" y="17.1" width="6.8" height="7" fill="#595959"/><rect x="881.1" y="28.2" width="6.8" height="7" fill="#595959"/><rect x="881.1" y="39.7" width="6.8" height="7" fill="#595959"/><rect x="891.9" y="6.1" width="6.8" height="7" fill="#595959"/><rect x="891.9" y="39.7" width="6.8" height="7" fill="#595959"/><rect x="902.7" y="6.1" width="6.8" height="7" fill="#595959"/><rect x="902.7" y="39.7" width="6.8" height="7" fill="#595959"/><rect x="913.3" y="6.1" width="6.8" height="7" fill="#595959"/><rect x="913.3" y="17.1" width="6.8" height="7" fill="#595959"/><rect x="913.3" y="28.2" width="6.8" height="7" fill="#595959"/><rect x="913.3" y="39.7" width="6.8" height="7" fill="#595959"/><rect x="891.9" y="16.9" width="7" height="18.9" fill="#e2222a"/><rect x="902.7" y="16.9" width="7" height="18.9" fill="#e2222a"/></svg><div class="abs logo-cn" style="top:1275.9px">中辉期货</div><div class="abs logo-en" style="top:1275.9px">ZHONGHUI FUTURES</div><div class="abs dtitle" style="top:1289.5px">风险提示及免责声明</div><div class="abs disc" style="top:1337px"><div class="i" style="letter-spacing:2.16px">本报告由中辉期货公司投研团队纂写。</div><div class="i" style="letter-spacing:2.48px">本报告及其所载的任何信息、材料或内容仅供参考，并未考虑到任何特别的投资目的、财务状况或特殊需要，</div><div style="letter-spacing:2.41px">不能成为或被视为进行期货投资交易的要约或邀请，亦不构成任何合约或承诺的基础。中辉期货有限公司不能确保</div><div style="letter-spacing:2.2px">本报告中提及的投资产品适合任何特定投资者。本报告的内容不构成对任何人的投资建议。</div><div class="i" style="letter-spacing:2.51px">尽管本报告所载资料的来源及观点均是中辉期货有限公司及其投研团队从可靠的来源取得，但撰写本报告的</div><div style="letter-spacing:2.37px">投研团队或中辉期货有限公司的董事、高管、员工或其他任何个人（包括其关联方）都不能保证其准确性或完整性。</div><div style="letter-spacing:2.2px">除非法律或规则规定必须承担的责任外，中辉期货有限公司不对使用本报告的材料而引致的损失负任何责任。</div><div class="i" style="letter-spacing:2.49px">本报告仅反映中辉期货有限公司及其投研团队在报告所载日期的判断，反映投研团队在撰写本报告时的设想、</div><div style="letter-spacing:2.38px">见解及分析方法，可随时更改，毋须提前通知。中辉期货有限公司可发布其它与本报告所载资料不一致及有不同结</div><div style="letter-spacing:2.21px">论的报告，亦有可能采取与本报告观点不同的投资策略。</div><div class="i" style="letter-spacing:2.51px">本报告对其中所包含的或讨论的信息或意见的准确性、完整性或公平性不作任何明示或暗示的声明或保证。</div><div style="letter-spacing:2.21px">投资者不应单纯依靠本报告而取代个人的独立判断。</div><div class="i" style="letter-spacing:2.19px">中辉期货有限公司版权所有。保留一切权利。</div></div></body></html>
